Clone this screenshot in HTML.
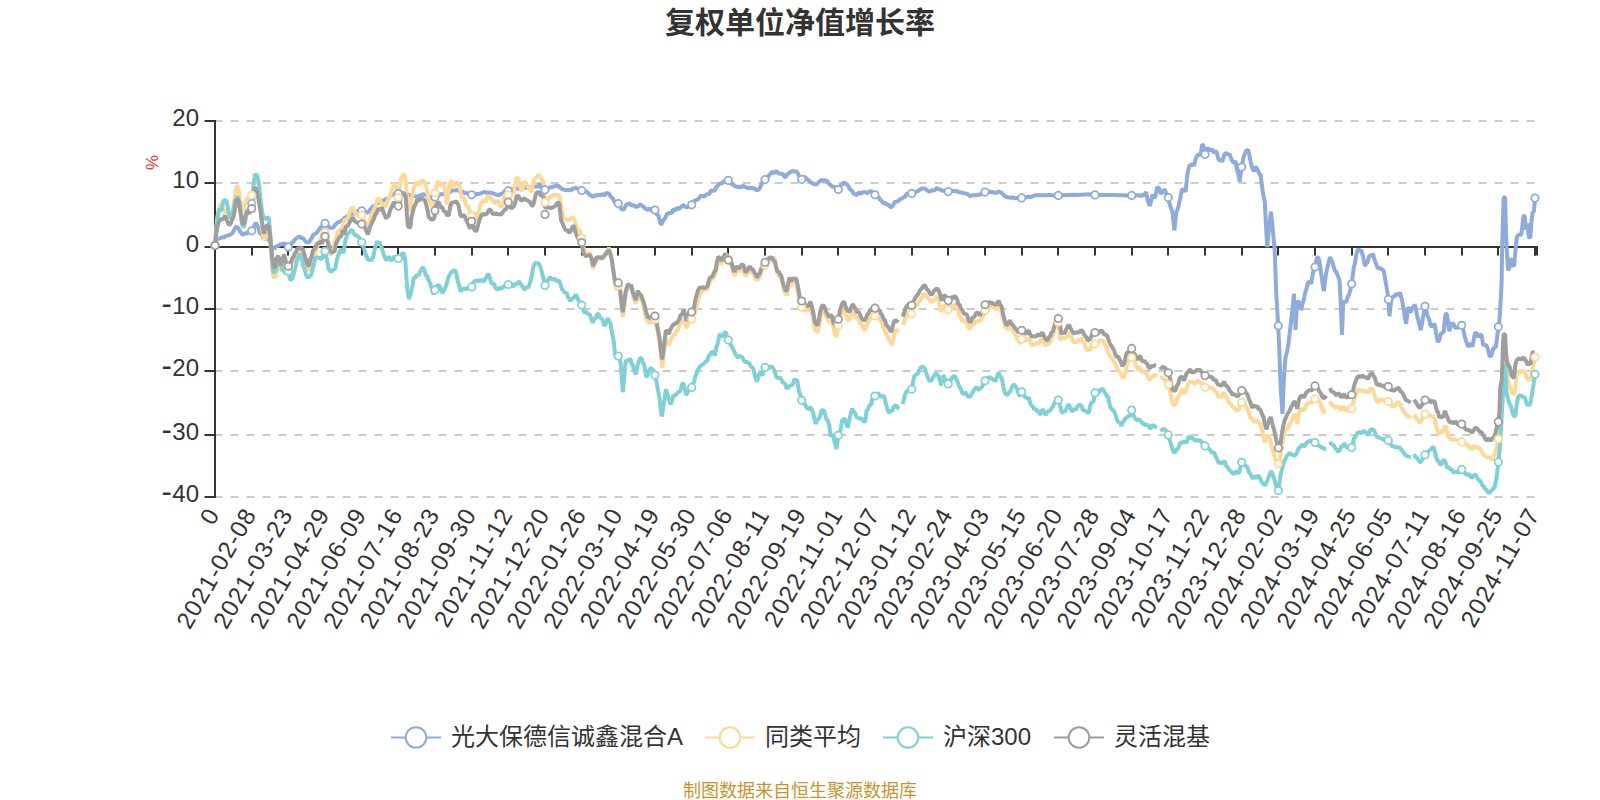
<!DOCTYPE html>
<html lang="zh-CN"><head><meta charset="utf-8"><title>复权单位净值增长率</title>
<style>
html,body{margin:0;padding:0;background:#fff;}
body{width:1600px;height:800px;overflow:hidden;font-family:"Liberation Sans","Noto Sans CJK SC",sans-serif;}
svg{display:block;}
svg text{font-family:"Liberation Sans","Noto Sans CJK SC",sans-serif;}
.ttl{font-size:30px;font-weight:bold;fill:#333;}
.yl{font-size:24px;fill:#333;}
.xl{font-size:24px;fill:#333;letter-spacing:1.2px;}
.lg{font-size:24px;fill:#333;}
.src{font-size:18px;fill:#c8932e;}
.ln{fill:none;stroke-width:4;stroke-linejoin:bevel;stroke-linecap:butt;}
.sy{fill:#fff;stroke-width:1.75;}
</style></head><body>
<svg width="1600" height="800" viewBox="0 0 1600 800">
<rect width="1600" height="800" fill="#fff"/>
<text class="ttl" x="800" y="33" text-anchor="middle">复权单位净值增长率</text>

<line x1="214.5" y1="121.0" x2="1535" y2="121.0" stroke="#ccc" stroke-width="2" stroke-dasharray="8 8"/>
<line x1="214.5" y1="183.0" x2="1535" y2="183.0" stroke="#ccc" stroke-width="2" stroke-dasharray="8 8"/>
<line x1="214.5" y1="309.0" x2="1535" y2="309.0" stroke="#ccc" stroke-width="2" stroke-dasharray="8 8"/>
<line x1="214.5" y1="371.0" x2="1535" y2="371.0" stroke="#ccc" stroke-width="2" stroke-dasharray="8 8"/>
<line x1="214.5" y1="435.0" x2="1535" y2="435.0" stroke="#ccc" stroke-width="2" stroke-dasharray="8 8"/>
<line x1="214.5" y1="497.0" x2="1535" y2="497.0" stroke="#ccc" stroke-width="2" stroke-dasharray="8 8"/>
<line x1="215" y1="120" x2="215" y2="498" stroke="#333" stroke-width="2"/>
<line x1="204.5" y1="121.0" x2="215" y2="121.0" stroke="#333" stroke-width="2"/>
<text class="yl" x="199" y="125.5" text-anchor="end">20</text>
<line x1="204.5" y1="183.0" x2="215" y2="183.0" stroke="#333" stroke-width="2"/>
<text class="yl" x="199" y="187.5" text-anchor="end">10</text>
<line x1="204.5" y1="247.0" x2="215" y2="247.0" stroke="#333" stroke-width="2"/>
<text class="yl" x="199" y="251.5" text-anchor="end">0</text>
<line x1="204.5" y1="309.0" x2="215" y2="309.0" stroke="#333" stroke-width="2"/>
<text class="yl" x="199" y="313.5" text-anchor="end"><tspan font-size="31" letter-spacing="0.5">-</tspan>10</text>
<line x1="204.5" y1="371.0" x2="215" y2="371.0" stroke="#333" stroke-width="2"/>
<text class="yl" x="199" y="375.5" text-anchor="end"><tspan font-size="31" letter-spacing="0.5">-</tspan>20</text>
<line x1="204.5" y1="435.0" x2="215" y2="435.0" stroke="#333" stroke-width="2"/>
<text class="yl" x="199" y="439.5" text-anchor="end"><tspan font-size="31" letter-spacing="0.5">-</tspan>30</text>
<line x1="204.5" y1="497.0" x2="215" y2="497.0" stroke="#333" stroke-width="2"/>
<text class="yl" x="199" y="501.5" text-anchor="end"><tspan font-size="31" letter-spacing="0.5">-</tspan>40</text>
<text x="158" y="162.5" font-size="17" fill="#e33" text-anchor="middle" transform="rotate(-90 158 162.5)">%</text>
<line x1="215" y1="247" x2="1538" y2="247" stroke="#333" stroke-width="2"/>
<line x1="215" y1="246" x2="215" y2="255.5" stroke="#333" stroke-width="2"/>
<text class="xl" text-anchor="end" transform="translate(220.5 513.8) rotate(-60)">0</text>
<line x1="252" y1="246" x2="252" y2="255.5" stroke="#333" stroke-width="2"/>
<text class="xl" text-anchor="end" transform="translate(257.2 513.8) rotate(-60)">2021-02-08</text>
<line x1="288" y1="246" x2="288" y2="255.5" stroke="#333" stroke-width="2"/>
<text class="xl" text-anchor="end" transform="translate(293.8 513.8) rotate(-60)">2021-03-23</text>
<line x1="325" y1="246" x2="325" y2="255.5" stroke="#333" stroke-width="2"/>
<text class="xl" text-anchor="end" transform="translate(330.5 513.8) rotate(-60)">2021-04-29</text>
<line x1="362" y1="246" x2="362" y2="255.5" stroke="#333" stroke-width="2"/>
<text class="xl" text-anchor="end" transform="translate(367.2 513.8) rotate(-60)">2021-06-09</text>
<line x1="398" y1="246" x2="398" y2="255.5" stroke="#333" stroke-width="2"/>
<text class="xl" text-anchor="end" transform="translate(403.8 513.8) rotate(-60)">2021-07-16</text>
<line x1="435" y1="246" x2="435" y2="255.5" stroke="#333" stroke-width="2"/>
<text class="xl" text-anchor="end" transform="translate(440.5 513.8) rotate(-60)">2021-08-23</text>
<line x1="472" y1="246" x2="472" y2="255.5" stroke="#333" stroke-width="2"/>
<text class="xl" text-anchor="end" transform="translate(477.2 513.8) rotate(-60)">2021-09-30</text>
<line x1="508" y1="246" x2="508" y2="255.5" stroke="#333" stroke-width="2"/>
<text class="xl" text-anchor="end" transform="translate(513.8 513.8) rotate(-60)">2021-11-12</text>
<line x1="545" y1="246" x2="545" y2="255.5" stroke="#333" stroke-width="2"/>
<text class="xl" text-anchor="end" transform="translate(550.5 513.8) rotate(-60)">2021-12-20</text>
<line x1="582" y1="246" x2="582" y2="255.5" stroke="#333" stroke-width="2"/>
<text class="xl" text-anchor="end" transform="translate(587.2 513.8) rotate(-60)">2022-01-26</text>
<line x1="618" y1="246" x2="618" y2="255.5" stroke="#333" stroke-width="2"/>
<text class="xl" text-anchor="end" transform="translate(623.8 513.8) rotate(-60)">2022-03-10</text>
<line x1="655" y1="246" x2="655" y2="255.5" stroke="#333" stroke-width="2"/>
<text class="xl" text-anchor="end" transform="translate(660.5 513.8) rotate(-60)">2022-04-19</text>
<line x1="692" y1="246" x2="692" y2="255.5" stroke="#333" stroke-width="2"/>
<text class="xl" text-anchor="end" transform="translate(697.2 513.8) rotate(-60)">2022-05-30</text>
<line x1="728" y1="246" x2="728" y2="255.5" stroke="#333" stroke-width="2"/>
<text class="xl" text-anchor="end" transform="translate(733.8 513.8) rotate(-60)">2022-07-06</text>
<line x1="765" y1="246" x2="765" y2="255.5" stroke="#333" stroke-width="2"/>
<text class="xl" text-anchor="end" transform="translate(770.5 513.8) rotate(-60)">2022-08-11</text>
<line x1="802" y1="246" x2="802" y2="255.5" stroke="#333" stroke-width="2"/>
<text class="xl" text-anchor="end" transform="translate(807.2 513.8) rotate(-60)">2022-09-19</text>
<line x1="838" y1="246" x2="838" y2="255.5" stroke="#333" stroke-width="2"/>
<text class="xl" text-anchor="end" transform="translate(843.8 513.8) rotate(-60)">2022-11-01</text>
<line x1="875" y1="246" x2="875" y2="255.5" stroke="#333" stroke-width="2"/>
<text class="xl" text-anchor="end" transform="translate(880.5 513.8) rotate(-60)">2022-12-07</text>
<line x1="912" y1="246" x2="912" y2="255.5" stroke="#333" stroke-width="2"/>
<text class="xl" text-anchor="end" transform="translate(917.2 513.8) rotate(-60)">2023-01-12</text>
<line x1="948" y1="246" x2="948" y2="255.5" stroke="#333" stroke-width="2"/>
<text class="xl" text-anchor="end" transform="translate(953.8 513.8) rotate(-60)">2023-02-24</text>
<line x1="985" y1="246" x2="985" y2="255.5" stroke="#333" stroke-width="2"/>
<text class="xl" text-anchor="end" transform="translate(990.5 513.8) rotate(-60)">2023-04-03</text>
<line x1="1022" y1="246" x2="1022" y2="255.5" stroke="#333" stroke-width="2"/>
<text class="xl" text-anchor="end" transform="translate(1027.2 513.8) rotate(-60)">2023-05-15</text>
<line x1="1058" y1="246" x2="1058" y2="255.5" stroke="#333" stroke-width="2"/>
<text class="xl" text-anchor="end" transform="translate(1063.8 513.8) rotate(-60)">2023-06-20</text>
<line x1="1095" y1="246" x2="1095" y2="255.5" stroke="#333" stroke-width="2"/>
<text class="xl" text-anchor="end" transform="translate(1100.5 513.8) rotate(-60)">2023-07-28</text>
<line x1="1132" y1="246" x2="1132" y2="255.5" stroke="#333" stroke-width="2"/>
<text class="xl" text-anchor="end" transform="translate(1137.2 513.8) rotate(-60)">2023-09-04</text>
<line x1="1168" y1="246" x2="1168" y2="255.5" stroke="#333" stroke-width="2"/>
<text class="xl" text-anchor="end" transform="translate(1173.8 513.8) rotate(-60)">2023-10-17</text>
<line x1="1205" y1="246" x2="1205" y2="255.5" stroke="#333" stroke-width="2"/>
<text class="xl" text-anchor="end" transform="translate(1210.5 513.8) rotate(-60)">2023-11-22</text>
<line x1="1242" y1="246" x2="1242" y2="255.5" stroke="#333" stroke-width="2"/>
<text class="xl" text-anchor="end" transform="translate(1247.2 513.8) rotate(-60)">2023-12-28</text>
<line x1="1278" y1="246" x2="1278" y2="255.5" stroke="#333" stroke-width="2"/>
<text class="xl" text-anchor="end" transform="translate(1283.8 513.8) rotate(-60)">2024-02-02</text>
<line x1="1315" y1="246" x2="1315" y2="255.5" stroke="#333" stroke-width="2"/>
<text class="xl" text-anchor="end" transform="translate(1320.5 513.8) rotate(-60)">2024-03-19</text>
<line x1="1352" y1="246" x2="1352" y2="255.5" stroke="#333" stroke-width="2"/>
<text class="xl" text-anchor="end" transform="translate(1357.2 513.8) rotate(-60)">2024-04-25</text>
<line x1="1388" y1="246" x2="1388" y2="255.5" stroke="#333" stroke-width="2"/>
<text class="xl" text-anchor="end" transform="translate(1393.8 513.8) rotate(-60)">2024-06-05</text>
<line x1="1425" y1="246" x2="1425" y2="255.5" stroke="#333" stroke-width="2"/>
<text class="xl" text-anchor="end" transform="translate(1430.5 513.8) rotate(-60)">2024-07-11</text>
<line x1="1462" y1="246" x2="1462" y2="255.5" stroke="#333" stroke-width="2"/>
<text class="xl" text-anchor="end" transform="translate(1467.2 513.8) rotate(-60)">2024-08-16</text>
<line x1="1498" y1="246" x2="1498" y2="255.5" stroke="#333" stroke-width="2"/>
<text class="xl" text-anchor="end" transform="translate(1503.8 513.8) rotate(-60)">2024-09-25</text>
<line x1="1535" y1="246" x2="1535" y2="255.5" stroke="#333" stroke-width="2"/>
<text class="xl" text-anchor="end" transform="translate(1540.5 513.8) rotate(-60)">2024-11-07</text>
<rect x="1534" y="246" width="4" height="9.5" fill="#333"/>
<polyline class="ln" stroke="#8eabdc" points="215,245.5 217,239.2 218.2,238.69 219.4,238.4 220.95,237.94 222.5,237.2 224.05,237.65 225.6,236.1 227.2,235.61 228.8,235.3 230.35,234.57 231.9,233.8 233.05,231.97 234.2,229.8 235.4,227.6 236.6,226.7 237.75,227.92 238.9,229.1 240.05,231.36 241.2,233 242.4,234.5 243.6,234.5 245.15,233 246.7,233.8 248.25,232 249.8,231.4 251,229.78 252.2,230.6 253.35,228.78 254.5,225.2 256.1,222.8 257.25,225.66 258.4,227.5 260,233.8 261.15,233.48 262.3,236.1 263.5,238.15 264.7,236.9 265.85,239.04 267,238.4 268.2,239.64 269.4,240 270.55,244.19 271.7,247.8 272.9,247.85 274.1,249.4 275.25,246.77 276.4,246.2 277.6,245.92 278.8,245.5 280.35,244 281.9,244.7 283.45,243.51 285,243.9 286.65,244.97 288.3,247 290.5,245.5 291.65,243.01 292.8,242.3 294,240.68 295.2,239.2 296.75,237.93 298.3,236.9 300,236.8 301.5,238.26 303,238.2 304.5,240.15 306,242 307.5,242.34 309,242 311.2,239 312.35,236.75 313.5,234.5 315,234.17 316.5,233 317.65,231.39 318.8,230 320.3,227.54 321.8,226.2 323.45,226.03 325.1,223.2 326.45,225.61 327.8,225.5 329.3,227.47 330.8,227.8 332.3,227.91 333.8,227 335.3,224.67 336.8,223.2 338.3,221.94 339.8,221.8 341.3,220.59 342.8,220.2 344.3,217.95 345.8,217.2 347.3,216.54 348.8,215 350.3,214.09 351.8,213.5 353.3,213.72 354.8,212.8 356.3,211.8 357.8,211.2 359.07,211.92 360.33,211.58 361.6,210.8 363.05,210.54 364.5,212 366,211.92 367.5,212.8 369,211.58 370.5,209 372,207.45 373.5,206 375,205.76 376.5,203.8 378,202.81 379.5,202.2 381,200.72 382.5,200.8 384,200.23 385.5,199.2 387,198.97 388.5,197.8 390,196.3 391.5,195.5 393,194.15 394.5,194 395.77,193.63 397.03,194.38 398.3,193.6 399.82,193.83 401.35,192.82 402.88,192.87 404.4,193.1 405.7,193.09 407,193.6 408.3,195.2 409.6,194.88 410.9,195.9 412.32,196.23 413.75,196.33 415.18,196.23 416.6,196.9 417.83,196.74 419.07,195.47 420.3,195.5 421.57,195.35 422.83,194.34 424.1,194.5 425.33,194.85 426.57,195 427.8,195.9 429.07,196.17 430.33,197.92 431.6,197.8 433.3,197.92 435,197.1 436.37,196.1 437.73,196.29 439.1,195 440.67,194.25 442.23,194.23 443.8,194.1 445.28,194.07 446.76,193.16 448.24,191.74 449.72,192.54 451.2,191.2 452.62,190.41 454.05,190.13 455.47,190.57 456.9,189.8 458.13,190.36 459.37,191.11 460.6,192.2 462,191.79 463.4,192.04 464.8,193 466.2,193.1 467.57,193.18 468.95,194.09 470.32,194.2 471.7,194.8 473.15,194.56 474.6,195.06 476.05,194.25 477.5,194.1 479.07,193.72 480.63,193.59 482.2,192.7 483.6,192.17 485,192 486.4,192.85 487.8,192.2 489.2,192.9 490.6,192.62 492,192.91 493.4,193.6 495,194.1 496.4,194.81 497.8,195 499.07,195.15 500.33,194.09 501.6,194.1 503,193.09 504.4,191.2 505.7,191.44 507,191.03 508.3,190.8 509.5,190.26 510.7,189.51 511.9,189.4 513.13,188.63 514.37,189.17 515.6,188.4 516.87,188.16 518.13,188.58 519.4,188.4 520.63,187.85 521.87,188.13 523.1,187.5 524.37,187.77 525.63,187.61 526.9,188 528.13,187.42 529.37,187.95 530.6,187.5 531.87,186.65 533.13,186.55 534.4,186.6 535.63,186.51 536.87,186.71 538.1,186.1 539.5,183.8 540.9,187.5 542.27,188.44 543.63,188.69 545,189.8 546.7,189.8 548.4,188.4 549.67,187.6 550.93,186.99 552.2,187.5 553.6,186.42 555,186.1 556.15,185.56 557.3,185.2 558.5,185.76 559.7,187.5 561.1,188.04 562.5,189.4 563.73,189.53 564.97,190.09 566.2,190.3 567.47,189.77 568.73,190.1 570,190.3 571.4,189.98 572.8,188.4 574.2,188.75 575.6,187.5 577,188.44 578.4,188.9 580,189.98 581.6,190.5 582.9,191.17 584.2,190.89 585.5,191.22 586.8,191.71 588.1,193.1 589.52,194.87 590.95,195.25 592.38,196.68 593.8,196.5 595.03,194.97 596.27,195.79 597.5,195 598.9,194.85 600.3,195.4 601.7,194.23 603.1,194.6 604.52,195.49 605.95,192.77 607.38,193.59 608.8,193.1 610.03,195.35 611.27,197.39 612.5,197.8 613.9,200.81 615.3,202.5 616.8,203.52 618.3,203.4 619.5,206.13 620.7,208.37 621.9,209.1 623.8,210 625.2,206.73 626.6,204.4 628,204.15 629.4,202.9 630.8,204.85 632.2,205.59 633.6,205.14 635,206.2 636.4,206.79 637.8,206.6 639.2,205.11 640.6,204.4 642,206.02 643.4,206.33 644.8,208.22 646.2,209.1 647.77,209.81 649.33,208.1 650.9,210 652.3,210.5 653.7,211.77 655.1,210 656.75,214.21 658.4,215.6 659.8,221.12 661.2,225 662.65,221.79 664.1,219.4 665.5,217.4 666.9,213.8 668.13,213.75 669.37,212.92 670.6,212.8 671.87,213.15 673.13,209.35 674.4,210 675.8,210.48 677.2,207.26 678.6,208.96 680,208.1 681.27,207.11 682.53,205.38 683.8,205.3 685.2,206.84 686.6,207.2 687.85,206.62 689.1,206.33 690.35,206.52 691.6,204.9 692.92,202.87 694.25,200.84 695.58,200.41 696.9,199.7 698.3,199.28 699.7,196.91 701.1,195.86 702.5,195.9 703.9,196.61 705.3,195.46 706.7,194.38 708.1,194.1 709.37,194.01 710.63,191.05 711.9,190.3 713.3,190.8 714.7,190.3 716.27,187.29 717.83,185.77 719.4,183.8 720.97,183.57 722.53,182.86 724.1,180.9 725.53,181.61 726.97,180.3 728.4,180.4 729.77,182.01 731.13,182.87 732.5,184.7 733.9,184.93 735.3,186.6 736.87,186.59 738.43,187.33 740,186.6 741.27,187.02 742.53,186.39 743.8,185.6 745.03,187.48 746.27,187 747.5,188.4 748.9,187.56 750.3,188.28 751.7,187.83 753.1,188.4 754.37,188.35 755.63,189.46 756.9,190.3 758.3,189.65 759.7,188.4 761.1,185.13 762.5,181.9 763.7,180.26 764.9,179.6 766.17,179.22 767.45,178.31 768.73,175.57 770,174.4 771.4,172.48 772.8,171.66 774.2,173.37 775.6,171.6 776.87,170.95 778.13,173.37 779.4,173.4 780.63,173.93 781.87,173.54 783.1,174.4 784.5,176.58 785.9,177.2 787.35,174.03 788.8,173.4 790.6,171.9 792.17,170.85 793.73,171.52 795.3,171.5 796.7,171.41 798.1,173.8 799.3,176.53 800.5,176.85 801.7,179.4 803,177.8 804.3,176.91 805.6,177.5 806.87,179.07 808.13,179.83 809.4,181.2 810.8,182.28 812.2,183.07 813.6,184.21 815,184.1 816.57,184.56 818.13,182.74 819.7,181.2 821.27,179.95 822.83,180.52 824.4,180.3 825.97,180.63 827.53,181.41 829.1,184.1 830.67,184.95 832.23,186.64 833.8,186.9 835.27,186.79 836.73,188.03 838.2,189.7 839.7,186.87 841.2,185 842.65,184.19 844.1,182.2 845.33,183.2 846.57,184.42 847.8,185 849.2,188.11 850.6,189.7 852.17,190.94 853.73,193.74 855.3,194.4 856.87,195.31 858.43,192.47 860,193.4 861.4,193.79 862.8,191.6 864.07,192.86 865.33,191.7 866.6,193.4 868.13,192.33 869.67,191.91 871.2,190.6 872.47,193.26 873.73,193.02 875,194.8 876.27,195.79 877.53,197.47 878.8,197.2 880.2,199.93 881.6,200.9 883.13,203.27 884.67,202.72 886.2,203.8 887.53,205.08 888.85,204.56 890.17,206.94 891.5,207.1 893.1,205.43 894.7,201.9 896.27,201.65 897.83,201.23 899.4,200 900.63,198.32 901.87,199.17 903.1,197.2 904.37,197.16 905.63,195.89 906.9,193.4 908.53,193.49 910.17,194.09 911.8,193.4 913.27,192.39 914.73,193.14 916.2,191.6 917.77,191.55 919.33,189.76 920.9,189.3 922.17,188.22 923.43,188.59 924.7,188.4 926.27,189.55 927.83,190.98 929.4,191.6 930.63,191.25 931.87,190.26 933.1,190.6 934.67,190.32 936.23,188.5 937.8,188.4 939.07,189.56 940.33,189.4 941.6,190.6 942.83,190.52 944.07,191.24 945.3,191 946.8,190.78 948.3,191.6 949.8,190.84 951.3,190.95 952.8,190.6 954.07,191 955.33,191.27 956.6,191 958.13,191.73 959.67,192.54 961.2,192.5 962.77,192.79 964.33,193.58 965.9,193.4 967.17,193.81 968.43,194.78 969.7,195.9 971.27,195.73 972.83,195.27 974.4,195.3 975.8,195.33 977.2,195.01 978.6,194.65 980,194.4 981.27,194.24 982.55,193.32 983.83,192.45 985.1,192.1 985.1,191.5 986.53,191.33 987.97,191.99 989.4,191.5 990.97,192.42 992.53,192.01 994.1,192.8 995.67,192.77 997.23,192.48 998.8,191.5 1000.2,192.18 1001.6,192.8 1003,194.47 1004.4,196 1005.63,196.18 1006.87,197.04 1008.1,197.5 1009.52,197.6 1010.95,197.81 1012.38,197.3 1013.8,197.9 1015.36,198.34 1016.92,197.92 1018.48,197.81 1020.04,198.18 1021.6,197.9 1022.93,197.75 1024.25,197.49 1025.58,197.46 1026.9,197.1 1028.13,196.77 1029.37,197.13 1030.6,197.1 1031.87,196.43 1033.13,196.05 1034.4,195.2 1035.9,195.37 1037.4,195.11 1038.9,195.19 1040.4,195.05 1041.9,195.2 1043.23,195.17 1044.56,195.33 1045.89,195.37 1047.21,195.19 1048.54,195.12 1049.87,195.07 1051.2,195.2 1052.64,195.29 1054.08,195.47 1055.52,195.16 1056.96,195.48 1058.4,195.4 1059.96,195.17 1061.52,195.17 1063.08,195.12 1064.64,195.23 1066.2,195.1 1067.61,195.01 1069.03,195 1070.44,195.07 1071.85,194.85 1073.26,195.06 1074.67,194.81 1076.09,194.93 1077.5,194.9 1088.8,194.3 1094.9,194.9 1103.8,195.1 1105.2,195 1106.6,194.98 1108,195.11 1109.4,195.08 1110.8,195.05 1112.2,195.07 1113.6,195.11 1115,195.1 1116.34,194.93 1117.69,194.97 1119.03,195.21 1120.37,195.23 1121.71,195.19 1123.06,195.37 1124.4,195.2 1125.86,195.38 1127.32,195.73 1128.78,194.98 1130.24,195.67 1131.7,195.4 1133.15,195.94 1134.6,196.1 1136.05,195.08 1137.5,195.4 1138.9,195.03 1140.3,196.46 1141.7,194.91 1143.1,195.6 1145,193.8 1145.9,191.9 1147.8,200.3 1149.7,205.9 1151.6,199.4 1152.5,194.7 1153.9,197.54 1155.3,196.6 1157.2,187.2 1159.1,188.1 1160.9,193.8 1162.8,191.9 1164.7,189.1 1166.6,194.7 1168.2,196.9 1169.4,203.37 1170.6,206.9 1172.5,212.5 1174.4,230.3 1176.2,212.5 1178.1,207.8 1180,199.4 1181.9,190 1183.13,189.24 1184.37,190.28 1185.6,191.9 1187.5,173.1 1189.4,165.6 1190.8,165.56 1192.2,163.8 1194.1,165.6 1195.9,158.1 1197.35,155.34 1198.8,154.4 1200.6,155.3 1202.1,144.6 1203.25,145.2 1204.4,148.8 1205.8,150.06 1207.2,148.8 1208.43,148.81 1209.67,150.48 1210.9,149.7 1212.35,149.77 1213.8,152.5 1215.2,151.7 1216.6,151.6 1218.4,159.1 1219.67,160.55 1220.93,159.61 1222.2,161.9 1224.1,155.3 1225.5,153.21 1226.9,153.4 1228.3,154.59 1229.7,154.4 1231.6,160 1232.83,161.86 1234.07,162.38 1235.3,160.9 1237.2,170.3 1238.4,174.49 1239.6,181.6 1241.7,166.9 1243.8,156.2 1245.2,152.97 1246.6,149.7 1248.4,150.6 1250.3,160 1252.2,168.4 1254.1,171.2 1255.9,166.6 1257.8,170.3 1259.2,173.63 1260.6,175 1262.5,190 1263.65,196.11 1264.8,202.2 1265.9,223.8 1267.2,247.2 1269.1,227.5 1270.9,211.6 1272.8,229.4 1274.7,250 1276.2,292.5 1278.2,325.8 1279.5,355 1280.5,385 1282.5,413.8 1283.8,380 1285.5,357.5 1287.5,350 1289.5,335 1291.2,320 1293,305 1294,293.8 1295.5,330 1297,302.5 1298.8,301.2 1300,306.31 1301.2,310 1302.5,303.82 1303.8,300 1305,293.37 1306.2,290 1308,282.5 1309.6,281.65 1311.2,283.8 1313,272.5 1315,267 1317,257.5 1318.25,257.59 1319.5,261.2 1321.2,273.8 1322.5,282.7 1323.8,291.2 1325.8,275 1328,265 1330,257 1331.25,259.81 1332.5,262.5 1333.75,267.11 1335,271.2 1336.25,271.76 1337.5,275 1339.5,280 1340.8,305 1342,335 1343.2,302.5 1344.7,301.3 1346.2,302.5 1347.5,297.62 1348.8,295 1350.3,290.39 1351.8,283.2 1353.8,267.5 1355,263.11 1356.2,255 1358.2,248.8 1359.7,251.02 1361.2,250 1363,256.2 1365,266.2 1366.25,262.81 1367.5,262.5 1368.75,257.09 1370,255 1371.5,256.12 1373,253.8 1375,261.2 1376.25,264.21 1377.5,267.5 1378.73,268.94 1379.97,267.71 1381.2,268.8 1382.5,269.87 1383.8,271.2 1385,278.16 1386.2,285 1388.2,297.5 1389.5,316.2 1391.2,300 1392.5,297.83 1393.8,296.2 1395.03,296.18 1396.27,293.55 1397.5,295 1398.75,294.51 1400,292.5 1402,300 1403.8,310 1405,318.21 1406.2,323.8 1408,307.5 1409.25,308.79 1410.5,312.5 1412.5,307.5 1413.75,306.08 1415,305 1417,315 1418.8,322.5 1420.8,330 1423,317.5 1425,306.2 1426.4,310.5 1427.6,316.1 1429.2,319.5 1430.4,325.1 1432.1,326.8 1433.8,324 1434.9,325.1 1436,333 1437.7,342 1439.4,339.8 1440.5,334.1 1442.2,333 1443.9,331.3 1444.8,319.5 1445.9,312.8 1447,315 1448.2,322.9 1449.3,331.3 1450.6,326.2 1451.8,322.9 1453.4,324 1455.1,327.4 1456.25,328.28 1457.4,327.4 1459.6,326.2 1460.75,325.36 1461.9,325.1 1463.6,330.8 1464.7,336.4 1466.4,342 1468.1,346.5 1470.3,344.2 1471.45,344.19 1472.6,346.5 1473.7,339.8 1475.2,332.4 1477.1,334.1 1478.2,336.9 1479.9,335.2 1481.6,334.7 1483,344.2 1484.4,345.4 1486.1,344.8 1487.8,348.8 1489.4,355.5 1491.1,356.6 1492.5,351 1493.9,347.6 1495.6,347.6 1496.8,339.8 1497.9,331.3 1498.8,326.8 1499.6,317.2 1500.3,307.1 1501,294.8 1501.6,283.5 1502.1,247.5 1502.8,225 1503.6,197.3 1505.1,197.3 1505.8,225 1506.7,250.5 1508.1,270.1 1509.3,268.6 1510.5,258 1511.8,266.3 1513,265.03 1514.2,266.3 1515.3,252 1516.5,240 1517.5,235.5 1519.3,234.8 1521.3,234.8 1522.5,225 1523.5,216 1524.7,216 1525.8,229.5 1527.3,223.5 1528.8,237 1530.3,237.8 1531.3,223.5 1532.5,213 1534,210.8 1535.1,196.8"/>
<polyline class="ln" stroke="#fdd896" points="215,245.5 215.9,232.2 217,219.7 218.6,210.3 220.2,204.8 221.7,204.1 222.9,208.94 224.1,210.3 225.6,216.6 226.8,215.98 228,218.1 229.15,215.54 230.3,216.6 231.5,216.14 232.7,211.9 234.2,199.4 235.8,190 237.3,185.3 238.9,191.6 240.5,202.5 242,208.8 243.6,210.3 245.2,202.5 246.7,198.6 247.9,198.2 249.1,200.2 250.6,196.2 252.2,194.7 253.8,185.3 255.3,176.7 256.5,175.26 257.7,176.7 259.2,188.4 260.8,211.9 262.3,230.6 263.9,240 265.5,238.4 267,232.2 268.6,227.5 270.2,240 271.7,261.9 273.3,276.7 274.45,277.28 275.6,276.7 277.2,269.7 278.8,265 280.3,268.1 281.9,271.2 283.4,265 285,261.9 286.6,266.6 288.3,268.1 290.5,266.6 291.65,263.66 292.8,261.9 294,261.03 295.2,257.2 296.35,253.83 297.5,252.5 298.75,253.5 300,251 301.5,251.81 303,254 304.5,258.88 306,263 307.5,268.39 309,270.5 311.2,261.5 312.35,259.2 313.5,255.5 314.65,254.86 315.8,251 318,245 320.2,240.5 321.35,238.29 322.5,234.5 323.8,231.63 325.1,232.2 326.45,236.3 327.8,237.5 329.2,249.5 330.8,255.5 333,249.5 335.2,240.5 336.35,237.09 337.5,233 338.65,230.78 339.8,230 342,230 343.5,222.5 344.65,219.82 345.8,219.5 348,218 350.2,210.5 351.35,209.84 352.5,206.8 353.65,209.71 354.8,212 357,215 359.2,214.2 360.4,216.26 361.6,215 363.8,219.5 366,224 367.8,230 369.8,221 372,213.5 374.2,209 375.35,206.64 376.5,202.2 378,197.8 380.2,200 381.35,203.65 382.5,203.8 383.65,205.9 384.8,207.5 387,202.2 389.2,197 390.35,194.75 391.5,191 392.65,188.03 393.8,184.2 395.7,185 396.4,189.4 398.3,197.8 399.7,191.2 401.1,179.1 402.5,174.8 404.4,174.8 405.8,180 406.7,193.1 408.1,205.3 409.5,211.9 410.9,204.4 412.3,195.9 413.8,187.5 415.2,185.6 416.6,181.9 418,183.8 419.4,184.7 420.8,181.9 422.2,180.5 424.1,180.9 425.5,183.8 426.9,189.4 427.8,195 429.2,200.6 431.1,204.4 432.5,206.2 433.9,202.5 435,193.1 436.2,186.6 437.7,182.3 439.1,181.9 440.5,185.6 441.9,184.7 443.3,183.8 444.7,188.4 446.1,197.8 447,204.4 448,195.9 449.4,183.8 450.8,181.4 452.2,181.9 453.1,188.4 454.1,184.7 455.9,183.3 457.8,182.8 459.7,186.6 461.1,195.9 462.5,197.8 464.4,197.8 465.8,204.4 467.7,206.2 469.1,209.1 470.5,211.9 471.7,216.1 473.3,212.8 474.7,214.7 476.1,218.4 477.5,218.4 478.9,211.9 480.3,204.4 482.2,202.5 484.1,199.7 485.5,202.5 486.9,197.3 488.8,195.9 490.6,198.3 492.5,200.6 494.4,202.3 495,202.5 496.9,200.6 498.8,202.5 500.2,206.2 501.6,207.2 503,202.5 504.4,195.9 506.2,193.1 508.3,194.8 510.5,195 512.3,193.1 513.8,192.2 515.2,183.8 516.1,178.1 518,178.1 519.4,183.8 520.8,188.4 522.2,191.2 523.1,185.6 524.5,181.9 525.9,182.8 527.3,185.6 528.8,188.4 530.2,190.3 531.6,192.2 532.5,185.6 533.9,180 535.3,179.1 536.7,177.2 538.1,175.3 539.5,175.3 540.9,178.1 541.9,180 543.3,180.9 544.2,186.6 545,202.3 546.6,202.5 548.4,198.8 550.3,196.9 552.2,195.9 553.6,194.53 555,195 556.15,196.08 557.3,194.5 559.2,195.9 560.6,202.5 561.6,209.1 562.5,215.6 564.4,218.4 566.2,219.4 568.1,220.3 570,218.9 571.9,217.5 573.8,218 575.2,222.2 576.6,226.9 578,229.7 579.8,230.6 580.8,234.4 581.6,237.7 583.4,247.5 584.8,249.59 586.2,253.1 587.47,253.87 588.73,254.23 590,252.2 591.4,259.77 592.8,266.2 592.8,269.1 594.07,264.31 595.33,263.47 596.6,258.8 598.13,259.74 599.67,258.2 601.2,259.7 602.47,256.42 603.73,256.69 605,255 606.27,250.72 607.53,251.62 608.8,247.5 610.2,253.17 611.6,258.8 613,269.17 614.4,279.4 616.2,289.7 618.3,285.9 620,291.6 621.4,304.06 622.8,317.2 624.2,306.56 625.6,294.7 627.5,287.8 628.73,289.38 629.97,287.07 631.2,287.8 632.65,292.97 634.1,299.1 635.9,303.8 637.8,294.4 639.7,297.2 641.1,299.86 642.5,301.9 643.73,306.53 644.97,313.06 646.2,318.1 648.1,322.8 649.37,322.66 650.63,321.95 651.9,321.9 653.5,321.16 655.1,319.1 656.3,324.81 657.5,330.3 659.4,340.6 660.8,352.63 662.2,367.8 664.1,351.9 665.9,338.8 667.35,343.49 668.8,344.4 670.03,341.35 671.27,339.14 672.5,336.9 673.73,334.63 674.97,334.73 676.2,331.2 677.62,330.59 679.05,326.6 680.48,323.85 681.9,321.9 683.8,318.1 685.2,321.72 686.6,328.4 688.4,321.9 690,322 691.6,319.1 693.3,314.55 695,312.5 696.4,307.03 697.8,301.2 699.7,294.4 701.1,291.93 702.5,290.6 704.07,289.65 705.63,289.46 707.2,289.7 708.6,284.28 710,281.2 711.4,278.54 712.8,279.4 714.2,276.73 715.6,273.8 717,268.32 718.4,260.6 719.8,263.06 721.2,264.4 722.47,259.5 723.73,257.6 725,253.1 726.7,254.7 728.4,259.7 730,262.16 731.6,265.3 733,271.7 734.4,275.6 735.8,273.95 737.2,269.1 738.6,269.85 740,270.9 741.4,270.37 742.8,267.2 744.2,271.89 745.6,276.6 746.87,274.19 748.13,271.92 749.4,269.1 750.63,272.2 751.87,272.49 753.1,272.8 754.37,275.2 755.63,278.66 756.9,280.3 758.3,278.99 759.7,276.6 761.1,271.79 762.5,268.1 763.7,267.78 764.9,265.3 766.5,264.17 768.1,260.6 769.5,259.16 770.9,256.9 772.17,259.52 773.43,256.94 774.7,259.7 776.1,266.75 777.5,273.8 778.73,275.84 779.97,276.26 781.2,278.4 782.65,283.25 784.1,290.6 785.5,293.68 786.9,295.3 788.3,288 789.7,281.2 790.6,286.6 792,283.37 793.4,281.9 794.8,279.66 796.2,280.9 798.1,293.1 800,305.3 801.7,307.2 803.2,310.38 804.7,310 806.1,309.89 807.5,310.9 808.9,308.05 810.3,308.1 811.7,312.67 813.1,319.4 815,330.6 816.4,330.62 817.8,332.5 819.2,325.94 820.6,316.6 822,312.09 823.4,310 824.8,312.45 826.2,316.6 827.65,317.87 829.1,322.2 830.5,322.09 831.9,322.2 833.3,326.69 834.7,333.4 836.6,337.2 838.2,325.9 839.7,319.26 841.2,313.8 842.65,311.84 844.1,308.1 845.5,314.87 846.9,318.4 848.3,320.17 849.7,319.4 851.1,313.4 852.5,310.9 853.73,312.64 854.97,316.63 856.2,317.5 857.47,317.29 858.73,319.51 860,322.2 861.57,324.96 863.13,327.35 864.7,330.6 866.1,327.35 867.5,322.2 868.73,321.16 869.97,318.33 871.2,316.6 872.47,315.45 873.73,315.18 875,316 876.27,315.61 877.53,315.35 878.8,317.5 880.03,320.33 881.27,320.6 882.5,324.1 883.73,329.01 884.97,331.52 886.2,334.4 887.65,335.52 889.1,340 890.5,342.35 891.9,344.7 893.3,338.99 894.7,332.5 896.1,329.81 897.5,330.6 899.4,331.6"/>
<polyline class="ln" stroke="#fdd896" points="903.1,325 905,318.4 906.4,316.05 907.8,313.8 909.13,312.01 910.47,314.81 911.8,313.8 913.55,308.12 915.3,306.2 916.57,304.83 917.83,304.31 919.1,300.6 920.5,300.07 921.9,296.9 923.55,294.49 925.2,294.1 926.8,296.58 928.4,298.8 929.8,299.28 931.2,302.5 932.65,300.5 934.1,299.7 935.5,299.18 936.9,295.9 938.8,300.6 940.6,310.9 941.87,310.54 943.13,305.9 944.4,306.2 945.7,306.88 947,309 948.3,309.6 949.5,306.93 950.7,307.88 951.9,305.3 953.13,306.49 954.37,304.9 955.6,304.4 957,307.63 958.4,311.9 959.67,316.32 960.93,318.15 962.2,321.2 963.43,320.35 964.67,321.02 965.9,322.2 967.17,323.1 968.43,327.89 969.7,328.8 971.1,326.94 972.5,325 973.73,324.18 974.97,323.07 976.2,320.3 977.47,322.4 978.73,319.72 980,321.2 981.4,318.58 982.8,316.6 983.95,314.67 985.1,310 985.1,310.9 986.53,310.33 987.97,307.34 989.4,306.2 990.63,307.13 991.87,305.71 993.1,307.2 994.5,307.31 995.9,310 997.35,306.39 998.8,306.2 1000.2,309.04 1001.6,312.8 1003.4,321.2 1004.8,324 1006.2,328.8 1007.47,328.23 1008.73,329.32 1010,326.9 1011.4,327.43 1012.8,330.6 1014.2,332.72 1015.6,334.4 1017,338.59 1018.4,340 1020.3,343.8 1021.6,339.1 1023.03,339.71 1024.47,339.79 1025.9,340 1027.35,339.92 1028.8,338.1 1030.2,339.97 1031.6,344.7 1033.13,345.53 1034.67,344.04 1036.2,342.8 1037.47,343.32 1038.73,342.75 1040,340.9 1041.4,339.37 1042.8,340.9 1044.2,341.6 1045.6,345.6 1047,343.93 1048.4,344.7 1049.67,341.88 1050.93,340.7 1052.2,336.2 1053.6,333.11 1055,326.9 1056.9,321.2 1058.4,322.2 1060.2,340 1061.8,338.72 1063.4,338.1 1064.8,338.12 1066.2,337.2 1067.65,335.76 1069.1,332.5 1070.5,334.66 1071.9,338.1 1073.3,341.79 1074.7,341.9 1076.1,342.57 1077.5,340 1078.73,340.19 1079.97,340.19 1081.2,338.1 1082.65,341.59 1084.1,342.8 1085.5,347.07 1086.9,350.3 1088.3,349.71 1089.7,350.3 1091.1,345.75 1092.5,342.8 1093.7,342.46 1094.9,344.1 1096.3,341.35 1097.7,343.58 1099.1,340.9 1100.5,340.13 1101.9,340.9 1103.13,340.66 1104.37,343.33 1105.6,345.6 1107,347.84 1108.4,353.1 1109.8,355.24 1111.2,357.8 1112.65,359.51 1114.1,362.5 1115.5,364.07 1116.9,368.1 1118.3,369.91 1119.7,371.9 1120.93,373.74 1122.17,375.68 1123.4,378.4 1125.3,372.8 1127.2,363.4 1129.1,359.7 1130.4,359.94 1131.7,357.8 1133.2,358.97 1134.7,361.6 1136.1,365.51 1137.5,369.1 1138.9,369.59 1140.3,367.2 1141.7,371.15 1143.1,371.9 1144.5,372.42 1145.9,373.8 1147.17,373.99 1148.43,379.18 1149.7,379.4 1151.1,378.05 1152.5,376.6 1154.07,375.42 1155.63,374.82 1157.2,375.6"/>
<polyline class="ln" stroke="#fdd896" points="1160.3,377.8 1161.57,377.44 1162.83,378.35 1164.1,379.7 1165.53,379.89 1166.97,381.12 1168.4,384.4 1170.6,393.8 1172,401.28 1173.4,405 1174.8,404.82 1176.2,402.2 1177.65,397.43 1179.1,395.6 1180.5,392.28 1181.9,389.1 1183.3,392.1 1184.7,392.8 1186.1,389.52 1187.5,386.2 1188.9,382.26 1190.3,381.6 1191.57,381.59 1192.83,382.35 1194.1,383.4 1195.33,383.95 1196.57,381.83 1197.8,380.6 1199.07,381.39 1200.33,382.92 1201.6,383.4 1203.25,383.88 1204.9,387.2 1206.5,387.26 1208.1,386.2 1209.37,387.78 1210.63,387.99 1211.9,388.1 1213.13,388.9 1214.37,389.92 1215.6,391.9 1217,393.02 1218.4,397.5 1219.8,396.07 1221.2,397.5 1222.65,394.09 1224.1,392.8 1225.5,395.43 1226.9,398.4 1228.3,401.77 1229.7,403.1 1231.1,403.94 1232.5,406.9 1233.73,407.73 1234.97,409.28 1236.2,409.7 1237.65,410.19 1239.1,409.7 1240.4,404.13 1241.7,402.2 1243.2,404.75 1244.7,404.1 1246.1,406.77 1247.5,408.8 1248.9,412.7 1250.3,418.1 1251.7,418.51 1253.1,420.9 1254.37,421.32 1255.63,421.94 1256.9,420 1258.3,421.28 1259.7,423.8 1261.1,427.11 1262.5,431.2 1263.65,437.07 1264.8,442.5 1266,437.51 1267.2,435 1268.6,436.54 1270,438.8 1271.4,445.99 1272.8,450 1274.2,454.91 1275.6,459.4 1276.9,462.98 1278.2,464.1 1280.3,457.5 1282.2,444.4 1284.1,434.1 1285.5,430.35 1286.9,428.4 1288.3,427.5 1289.7,423.8 1291.1,422.02 1292.5,418.1 1293.9,415.21 1295.3,414.4 1297.2,423.8 1299.1,412.5 1300.9,408.8 1302.35,409.81 1303.8,410.6 1305.2,408.04 1306.6,404.1 1308,403.43 1309.4,402.2 1310.8,402.59 1312.2,402.2 1313.6,399.76 1315,399 1316.4,399.82 1317.8,400.3 1319.2,401.71 1320.6,404.1 1322,409.17 1323.4,412.5 1324.8,411.16 1326.2,410.6"/>
<polyline class="ln" stroke="#fdd896" points="1330,401.2 1331.4,404.59 1332.8,405 1334.2,406.63 1335.6,407.8 1336.87,406.5 1338.13,406.89 1339.4,406.9 1341.2,410.6 1342.65,407.34 1344.1,406.9 1345.5,409.59 1346.9,410.6 1348.47,408.61 1350.03,409.94 1351.6,409.1 1352.85,403.79 1354.1,399.7 1355.5,396.43 1356.9,391.2 1358.3,389.52 1359.7,390.3 1361.1,390.99 1362.5,390.3 1363.9,391.56 1365.3,391.2 1366.7,391.14 1368.1,393.1 1369.5,389.55 1370.9,388.4 1372.8,389.4 1374.2,393.75 1375.6,398.8 1377,401.06 1378.4,402.5 1379.67,400.87 1380.93,399.21 1382.2,399.7 1383.6,400.46 1385,401.6 1386.7,402.63 1388.4,401.6 1390,402.26 1391.6,405.3 1392.83,406.53 1394.07,405.32 1395.3,405.3 1396.57,403.45 1397.83,402.35 1399.1,402.5 1400.5,404.95 1401.9,408.1 1403.3,410.88 1404.7,413.8 1406.1,414.16 1407.5,416.6 1409.2,416.2 1410.9,418.4"/>
<polyline class="ln" stroke="#fdd896" points="1414.1,414.7 1415.5,417.05 1416.9,419.4 1418.3,420.45 1419.7,423.1 1421.1,420.54 1422.5,418.4 1423.7,416.06 1424.9,414.1 1426.5,415.15 1428.1,414.7 1429.37,415.63 1430.63,414.93 1431.9,416.6 1433.3,416.78 1434.7,419.4 1436.6,428.8 1438,432.96 1439.4,434.4 1440.63,431.76 1441.87,431.1 1443.1,431.6 1444.5,427.12 1445.9,425.9 1447.35,432.79 1448.8,437.2 1450.03,437.99 1451.27,440.08 1452.5,439.1 1453.73,439.88 1454.97,439.08 1456.2,440 1457.58,440.24 1458.95,441.75 1460.33,440.5 1461.7,441.9 1463.2,443.91 1464.7,443.8 1465.93,444.42 1467.17,444.14 1468.4,446.6 1469.67,447.13 1470.93,448.62 1472.2,449.4 1473.6,446.62 1475,445.6 1476.27,447.28 1477.53,447.96 1478.8,447.5 1480.2,449.38 1481.6,451.2 1483,454.61 1484.4,455 1485.63,456.66 1486.87,457.01 1488.1,457.8 1489.5,457 1490.9,458.8 1492.35,459.57 1493.8,456.9 1495.6,451.2 1496.9,447.39 1498.2,440.4 1499.4,428.8 1500.9,406.2 1502.2,387.5 1503.7,357.5 1504.5,345.5 1505.5,350 1506.3,365 1507.8,380 1509.3,386 1510.8,389 1512.3,393.5 1514.5,393.5 1516,380 1517.5,371.8 1518.65,371.97 1519.8,372.5 1522,371 1523.15,370.96 1524.3,371.8 1525.8,375.5 1528,380 1529.15,378.78 1530.3,380.8 1531.8,372.5 1533.3,365 1535.1,356.8"/>
<polyline class="ln" stroke="#7fd1d6" points="215,245.5 216.2,230.6 217.8,216.6 219.4,208.8 220.55,209.82 221.7,210.3 223.3,200.9 224.45,200.65 225.6,199.4 227.2,204.1 228.8,213.4 230.3,218.1 231.9,216.6 233.4,210.3 235,200.9 236.15,199.75 237.3,196.2 238.9,200.9 240.5,211.9 242,224.4 243.6,227.5 245.2,221.2 246.7,213.4 247.9,210.25 249.1,208.8 250.6,204.8 252.2,203 253.4,185.3 255,174.4 256.9,175.2 258.4,180.6 259.7,191.6 261.2,205.6 263.1,216.6 264.7,218.9 266.6,218.1 268.6,217.3 270.2,232.2 271.7,255.6 273.3,272.8 275.3,271.2 277.2,265 278.8,260.3 279.95,263.23 281.1,265 282.25,268.84 283.4,269.7 284.6,272.8 285.8,272.8 287.05,270.81 288.3,271.2 290,279.8 292,279.1 293.2,275.73 294.4,271.2 295.55,267 296.7,261.9 297.9,258.76 299.1,255.6 300,254 302.2,260 303.35,266.27 304.5,269 305.65,273.21 306.8,277.2 309,277.2 311.2,275 312.35,270.29 313.5,266 315,258.5 317.2,257 318.35,258.69 319.5,257 320.65,258.62 321.8,259.2 323.45,254.34 325.1,251 327,260 328.5,269 329.65,269.78 330.8,272 333,269.8 335.2,269 336.8,260 338.2,255.5 339.8,251 342,249.5 343.5,253.2 345,242 347.2,234.5 348.35,233.34 349.5,232.2 351,229.8 352.5,230.8 353.65,233.06 354.8,234.5 357,236 359.2,237.5 360.4,240.55 361.6,242 363.8,248 366,255.5 368.2,260 369.7,259.72 371.2,260 372.35,259.07 373.5,255.5 375,248 377.2,241.2 378.35,243.23 379.5,242 380.65,245.21 381.8,248 384,255.5 386.2,260 387.35,259.19 388.5,257 389.65,257.45 390.8,260.8 393,258.5 394.5,256.46 396,257.8 397.4,260.12 398.8,258.8 400.33,256.08 401.87,253.91 403.4,253.1 405.3,260.6 407.2,288.8 409.1,299.1 410.9,292.5 412.35,286.51 413.8,277.5 415.33,277.82 416.87,274.8 418.4,275.6 419.97,272.12 421.53,269.02 423.1,267.2 424.5,270.54 425.9,275.6 427.17,275.92 428.43,280.09 429.7,282.2 430.93,285.52 432.17,289.93 433.4,294.4 434.9,290.2 436.5,286.4 438.1,285 439.37,286.02 440.63,288.23 441.9,292.5 443.13,292.05 444.37,289.71 445.6,286.9 446.87,283.36 448.13,277.94 449.4,275.6 450.8,272.87 452.2,271.35 453.6,270.7 455,270 456.4,273.92 457.8,281.2 459.2,285.55 460.6,291.6 462.17,289.54 463.73,288.57 465.3,288.8 466.58,289 467.86,287.88 469.14,287.56 470.42,286.74 471.7,286.9 473.2,283.75 474.7,280.3 476.27,281.68 477.83,280.17 479.4,281.2 480.97,279.57 482.53,281.13 484.1,281.2 485.33,278.27 486.57,277.33 487.8,273.8 489.37,275.76 490.93,282.08 492.5,284.1 494.07,284.12 495.63,287.99 497.2,289.7 498.6,288.79 500,287.6 501.4,289.08 502.8,286.9 504.15,287.04 505.5,284.37 506.85,285.01 508.2,284.4 509.83,285.66 511.47,284.29 513.1,286.9 514.52,283.91 515.95,284.44 517.38,283.5 518.8,281.2 520.2,283.18 521.6,285.15 523,287.6 524.4,289.7 525.8,287.14 527.2,287.83 528.6,286.5 530,283.1 531.57,276.46 533.13,268.14 534.7,263.4 535.93,262.71 537.17,263.95 538.4,262.5 539.67,265.6 540.93,268.53 542.2,273.8 543.6,278.4 545,285.4 546.27,283.87 547.53,281.2 548.8,278.4 550.2,277.59 551.6,278.87 553,279.39 554.4,278.4 555.97,280.8 557.53,280.93 559.1,280.3 560.5,284.3 561.9,288.8 563.47,291.21 565.03,292.88 566.6,292.5 567.83,296.7 569.07,299.05 570.3,300.9 571.7,299.6 573.1,297.69 574.5,297.36 575.9,294.4 577.17,297.38 578.43,300.24 579.7,301.9 581.8,305.2 583.1,308.12 584.4,313.1 585.8,311.88 587.2,312.88 588.6,314.39 590,314.4 591.4,318.88 592.8,322.8 594.2,319.3 595.6,318.1 597,314.57 598.4,313.4 599.8,317.46 601.2,318.1 602.65,320.22 604.1,325.6 605.33,324.72 606.57,321.63 607.8,318.1 609.2,321.23 610.6,323.8 612,333.18 613.4,338.8 615.3,355.6 616.8,356.48 618.3,356 619.6,358.63 620.9,365 622.8,392.2 624.2,378.37 625.6,361.2 627.17,359.94 628.73,360.92 630.3,358.4 631.57,363.66 632.83,365.16 634.1,370.6 635.9,374.4 637.35,366.05 638.8,361.2 640.2,357.98 641.6,358.4 643,362.77 644.4,365 646.2,377.2 647.65,375.01 649.1,370.6 650.9,367.8 652.3,369.27 653.7,371.33 655.1,375.3 656.3,380.89 657.5,387.5 659.4,396.9 660.6,407.89 661.8,416.6 663.7,404.4 665.9,389.4 667.8,395 669.2,400.61 670.6,404.4 672,401.09 673.4,395 674.97,395.85 676.53,394.1 678.1,392.2 679.5,392.08 680.9,389.4 682.05,384.26 683.2,382.8 684.6,387.02 686,395 687.2,393.58 688.4,389.4 690,388.9 691.6,387.5 692.85,384.04 694.1,381.9 695.5,375.79 696.9,372.5 698.3,369.06 699.7,366.9 700.93,365.36 702.17,365.02 703.4,364.1 704.67,362.94 705.93,361.04 707.2,361.2 708.6,356.36 710,354.7 711.4,352.17 712.8,351.9 714.7,355.6 716.1,348.59 717.5,344.4 719.4,335 720.8,334.43 722.2,336.9 723.43,335.01 724.67,332.36 725.9,332.2 727.15,337.34 728.4,340.2 730,343.37 731.6,346.2 733,348.9 734.4,351.9 735.63,354.6 736.87,355.23 738.1,358.4 739.5,355.69 740.9,356.6 742.17,356.87 743.43,359.71 744.7,362.2 745.93,361.97 747.17,361.86 748.4,363.1 749.67,363.63 750.93,366.9 752.2,366.9 753.6,369.68 755,376.2 756.9,381.9 758.3,377.01 759.7,372.5 761.1,373.46 762.5,375.3 763.7,370.52 764.9,367.4 766.5,368.95 768.1,368.8 769.5,366.8 770.9,366.9 772.17,366.73 773.43,368.74 774.7,371.6 776.1,376.53 777.5,378.1 778.73,377.85 779.97,377.33 781.2,379.1 782.47,382.14 783.73,382.69 785,383.8 786.4,387.83 787.8,388.4 788.95,386.36 790.1,385.6 791.6,385.3 792.83,384.61 794.07,379.82 795.3,379.7 797.2,380.6 799.1,391.9 800.4,395.1 801.7,400.3 803.2,403.32 804.7,404.1 806.1,406.51 807.5,408.8 808.9,408.95 810.3,406.9 811.7,409.27 813.1,412.5 814.5,419.58 815.9,423.8 817.35,419.84 818.8,419.1 820.2,415.32 821.6,410.6 823,409.92 824.4,411.6 826.2,419.1 827.65,420.31 829.1,423.8 830.4,435 831.6,436.01 832.8,434.1 834.7,442.5 836.6,449.1 838.2,435.6 840.3,431.2 842.2,420 843.6,419.28 845,419.1 846.4,424.49 847.8,427.5 849.7,418.1 851.1,412.63 852.5,408.8 853.9,411.97 855.3,413.4 856.7,417.3 858.1,418.1 859.37,418.92 860.63,417.76 861.9,419.1 863.55,421.14 865.2,421.9 866.6,410.6 868,409.51 869.4,405 871.2,405 873.1,393.8 875,396 876.4,395.54 877.8,392.8 879.2,394.49 880.6,396.6 881.87,396.52 883.13,395.67 884.4,397.5 886.2,405 888.1,411.6 889.37,412.51 890.63,410.44 891.9,411.6 893.3,407.79 894.7,405.9 896.1,405.28 897.5,407.8 899.4,408.8"/>
<polyline class="ln" stroke="#7fd1d6" points="902.8,404.1 905,394.7 906.4,391.52 907.8,390.9 909.13,389.86 910.47,389.61 911.8,389.1 913.1,381.27 914.4,375.9 915.8,374.71 917.2,374.1 918.6,372.23 920,368.4 921.57,366.87 923.13,367.01 924.7,368.4 926.1,372.74 927.5,376.9 928.9,380.28 930.3,380.6 931.57,380.62 932.83,377.73 934.1,375.9 935.5,373.45 936.9,374.1 939.1,376.9 941,385.3 942.2,381.57 943.4,375 944.8,379.22 946.2,379.7 948.3,384 949.5,383.45 950.7,379.98 951.9,377.8 953.3,376.4 954.7,375.9 956.1,379.08 957.5,381.6 958.9,385.95 960.3,388.1 962.2,392.8 963.6,394.23 965,391.9 966.4,394.23 967.8,396.6 969.2,396.63 970.6,396.6 972,393.08 973.4,390.9 974.8,389.18 976.2,387.2 977.65,388.73 979.1,390 980.5,387.95 981.9,387.2 983.5,383.76 985.1,380.6 985.1,380.3 986.53,380.95 987.97,377.43 989.4,377.5 990.8,377.51 992.2,379.4 993.6,379.56 995,381.2 996.27,379.76 997.53,374.85 998.8,372.8 1000.2,376.39 1001.6,377.5 1003.4,386.9 1004.8,392.28 1006.2,394.4 1007.65,394.88 1009.1,392.5 1010.5,390.86 1011.9,386.9 1013.3,384.79 1014.7,385 1016.1,387.61 1017.5,390.6 1018.9,394.63 1020.3,396.2 1021.6,391.6 1023.3,393.43 1025,397.2 1026.27,397.59 1027.53,398.61 1028.8,397.2 1030.2,403.05 1031.6,405.6 1033,406.93 1034.4,409.4 1035.8,408.85 1037.2,411.2 1038.6,411.32 1040,415 1041.4,411.5 1042.8,409.4 1044.2,412.38 1045.6,415 1047,412.27 1048.4,411.2 1049.67,411.2 1050.93,409.3 1052.2,407.5 1053.6,405.16 1055,401.9 1056.7,402.19 1058.4,400 1060,405.45 1061.6,412.2 1062.83,412.44 1064.07,410.97 1065.3,411.2 1066.57,408.23 1067.83,405.4 1069.1,404.7 1070.33,407.96 1071.57,410.55 1072.8,411.2 1074.07,408.49 1075.33,410.16 1076.6,408.4 1077.83,405.5 1079.07,405.62 1080.3,404.7 1081.57,405.87 1082.83,409.96 1084.1,410.3 1085.67,410.98 1087.23,412.21 1088.8,413.1 1090.6,403.8 1092,402.3 1093.4,401.9 1095,392.8 1096.27,391.97 1097.53,392.02 1098.8,393.1 1100.2,389.59 1101.6,389.4 1103,388.95 1104.4,392.2 1105.63,393.96 1106.87,396.24 1108.1,396.9 1110,406.2 1111.4,408.75 1112.8,410 1114.2,411.44 1115.6,414.7 1117,420.31 1118.4,422.2 1119.8,422.45 1121.2,425.9 1122.65,422.84 1124.1,420.3 1125.5,418.27 1126.9,417.5 1128.3,415.83 1129.7,416.6 1131.8,409.6 1133.1,414.74 1134.4,416.6 1135.8,419.22 1137.2,420.3 1138.43,419.41 1139.67,419.85 1140.9,421.2 1142.17,423.42 1143.43,423.34 1144.7,425 1145.93,424.65 1147.17,424.93 1148.4,425.9 1150.3,428.8 1152.2,425 1153.6,425.57 1155,426.9 1156.9,427.8"/>
<polyline class="ln" stroke="#7fd1d6" points="1160.2,430.6 1161.8,430.04 1163.4,428.8 1165.3,429.7 1166.8,431.53 1168.3,434.8 1169.6,439.65 1170.9,443.8 1172.8,450.3 1174.7,453.1 1176.1,449.59 1177.5,449.4 1178.9,446.23 1180.3,442.8 1181.7,442.67 1183.1,441.9 1184.5,441.75 1185.9,442.8 1187.35,440.61 1188.8,436.2 1190.03,438.11 1191.27,437.93 1192.5,438.1 1193.9,439.24 1195.3,440.9 1196.57,439.8 1197.83,440.6 1199.1,440 1200.5,440.79 1201.9,442.8 1203.5,443.32 1205.1,446 1206.75,447.29 1208.4,448.4 1209.8,449.49 1211.2,452.2 1212.65,452.61 1214.1,452.2 1215.5,456.34 1216.9,458.8 1218.8,463.4 1220.2,461.92 1221.6,463.4 1223,462.41 1224.4,460.6 1226.2,466.2 1227.65,466.95 1229.1,470 1230.5,470.86 1231.9,472.8 1233.8,473.8 1235.2,473.15 1236.6,470.9 1238,473.15 1239.4,471.9 1241.6,462.1 1242.85,462.68 1244.1,464.4 1245.5,466.15 1246.9,466.2 1248.8,471.9 1250.2,473.68 1251.6,476.6 1252.83,478.57 1254.07,475.96 1255.3,477.5 1256.57,477.83 1257.83,475.32 1259.1,476.6 1260.5,479.63 1261.9,482.2 1263.13,483.76 1264.37,485.04 1265.6,484.1 1267,481.81 1268.4,477.5 1269.8,474.39 1271.2,470.9 1273.1,475.6 1274.5,479.92 1275.9,485 1277.15,488.29 1278.4,490.6 1280.3,476.2 1282.2,468.8 1284.1,461.2 1285.5,458.96 1286.9,455.6 1288.3,454.62 1289.7,452.8 1291.1,454.56 1292.5,454.7 1293.73,455.33 1294.97,455.76 1296.2,453.8 1297.65,450.91 1299.1,447.2 1300.5,446.92 1301.9,444.4 1303.3,445.95 1304.7,446.2 1306.1,443.59 1307.5,441.6 1308.73,442.06 1309.97,440.58 1311.2,440.6 1312.47,442.16 1313.73,442.93 1315,442.5 1316.27,444.36 1317.53,445.33 1318.8,445.3 1320.03,446.67 1321.27,447.16 1322.5,448.1 1323.73,447.94 1324.97,449.09 1326.2,449.1"/>
<polyline class="ln" stroke="#7fd1d6" points="1330,441.6 1331.4,444.49 1332.8,444.4 1334.2,446.27 1335.6,449.1 1337,449.4 1338.4,451.9 1339.8,450.03 1341.2,446.2 1342.65,446.36 1344.1,443.4 1345.5,444.68 1346.9,448.1 1348.47,446.78 1350.03,446.62 1351.6,447.9 1352.85,443.17 1354.1,438.1 1355.5,436.95 1356.9,433.4 1358.3,432.14 1359.7,432.5 1361.1,433.08 1362.5,431.6 1363.9,430.57 1365.3,432.5 1366.7,432.9 1368.1,435.3 1369.5,432.17 1370.9,428.8 1372.35,429.93 1373.8,429.7 1375.2,432.93 1376.6,436.2 1377.83,437.34 1379.07,437.09 1380.3,438.1 1381.57,438.37 1382.83,439.43 1384.1,440 1385.53,438.61 1386.97,439.35 1388.4,440.4 1390,442.61 1391.6,445.6 1392.83,446.65 1394.07,446.07 1395.3,447.5 1396.57,446.62 1397.83,448 1399.1,446.6 1400.5,448.8 1401.9,450.3 1403.3,451.99 1404.7,454.1 1406.1,455.74 1407.5,455.9 1409.2,456.87 1410.9,456.9"/>
<polyline class="ln" stroke="#7fd1d6" points="1414.1,454.1 1415.5,457.09 1416.9,457.8 1418.13,459.56 1419.37,461.32 1420.6,462.5 1422.5,458.8 1423.7,455.37 1424.9,455 1426.5,453.33 1428.1,452.2 1429.5,450.39 1430.9,449.4 1432.35,447.52 1433.8,447.5 1435.6,455 1437.5,460.6 1438.73,461.35 1439.97,464.6 1441.2,464.4 1442.65,461 1444.1,459.7 1445.5,461.98 1446.9,467.2 1448.13,467.51 1449.37,467.81 1450.6,470 1451.87,468.97 1453.13,472.7 1454.4,471.9 1455.63,472.35 1456.87,470.97 1458.1,472.8 1459.3,471.84 1460.5,469.59 1461.7,469.6 1463.2,471.15 1464.7,472.8 1465.93,474.38 1467.17,474.8 1468.4,473.8 1469.8,475.35 1471.2,477.5 1472.47,477.39 1473.73,475.61 1475,474.7 1476.4,475.76 1477.8,479.4 1479.2,480 1480.6,481.2 1482,484.66 1483.4,485.9 1484.8,488.86 1486.2,489.7 1487.47,491.35 1488.73,493.15 1490,492.1 1491.4,490.45 1492.8,489.7 1494.7,486.9 1496.6,477.5 1498.2,463.4 1499.8,447.5 1501.2,425 1502.8,396.9 1504,380 1504.8,364.3 1505.5,365 1506.3,392 1507.8,398 1509.3,403.3 1510.8,405.6 1512.3,411.6 1513.8,416.1 1515.3,416.1 1516.8,404.1 1518.3,396.5 1520.5,395 1521.65,396.52 1522.8,396.5 1525,398 1526.5,403.3 1527.65,405.26 1528.8,404.8 1530.3,404.1 1531.8,395 1533.3,386 1535.1,373.6"/>
<polyline class="ln" stroke="#9e9e9e" points="215,245.5 216.2,233.8 217.8,224.4 219,221.7 220.2,219.7 221.35,219.46 222.5,218.9 223.65,218.73 224.8,215.8 226.9,220.5 229.1,225.2 231.1,222.8 232.25,218.82 233.4,217.3 235,208.8 236.9,198.6 238.9,201.7 240.5,211.9 242,220.5 243.6,225.2 245.2,216.6 247,211.1 249.1,213.8 250.6,210.3 252.2,207.7 253.8,196.2 255.3,187.3 256.9,191.6 258.4,198.6 260.3,210.3 262.3,224.4 263.9,233.8 265.5,227.5 267,225.2 268.6,225.9 270.2,236.9 271.7,252.5 273.3,265 274.8,268.1 276.4,258.8 278,255.6 279.5,261.9 281.1,265 282.7,257.2 284.2,254.8 286.1,262.7 288.3,266.2 289.75,263.01 291.2,261.9 292.4,257.76 293.6,257.2 294.75,253.39 295.9,252.5 297.1,248.68 298.3,248.6 300,248 301.5,247.45 303,249.5 305.2,257 306.35,260.8 307.5,264.5 309,266 310.5,258.5 311.65,256.61 312.8,251 315,248 317.2,243.5 318.35,243.49 319.5,242 320.65,242.29 321.8,243.5 323.45,239.39 325.1,236 326.45,239.73 327.8,242 330,251 332.2,252.5 333.35,251.49 334.5,251.8 335.65,245.28 336.8,242 339,237.5 341.2,236 342.8,230 344.2,234.5 345.8,227 348,225.5 350.2,221 351.35,220.22 352.5,217.2 353.65,219.47 354.8,221 357,222.5 359.2,223.2 360.4,222.27 361.6,224 363.8,225.5 366,230 367.8,234.5 369.8,227.8 372,222.5 374.2,218 375.35,214.12 376.5,213.5 377.65,209.71 378.8,209 380.3,209.99 381.8,207.5 384,213.5 386.2,218.8 387.35,216.18 388.5,216.5 390,210.5 392.2,206 393.8,202.2 395.7,203.8 395.9,202.5 397.1,204.83 398.3,206.2 399.45,204.73 400.6,199.7 401.8,195.58 403,195 404.4,193.1 405.8,196.9 406.7,211.9 407.7,225 409.1,227.8 410.5,226.9 411.4,217.5 412.8,211.9 414.2,206.2 415.6,204.4 417,199.7 418.9,200.6 420.8,198.8 422.7,198.8 424.5,199.7 425.9,203.4 427.3,209.1 428.8,217.5 429.95,218.05 431.1,219.4 433,219.8 434.4,217.5 435,210.5 436.2,205.3 437.7,202.5 439.1,202.5 440.5,207.2 442.3,207.2 443.8,210.9 445.6,211.9 447,215.2 448.9,214.7 450.3,206.2 451.7,202.5 453.6,202.5 455.5,201.6 456.9,202 458.8,206.2 460.2,214.7 461.6,216.6 463.4,214.7 465.3,217.5 466.7,221.2 468.6,225 470,228.8 471.7,221.2 473.3,225.9 474.7,230.6 476.6,231.1 478,225 479.4,220.3 481.2,215.6 483.1,213.8 485,214.7 486.9,213.8 488.8,210 490.6,209.5 492.5,213.8 494.4,214.2 495,212.8 496.9,214.2 498.3,214.15 499.7,214.2 501.1,214.48 502.5,212.8 504.4,210 506.2,209.1 508.3,202 510,207.2 511.9,208.1 513.8,206.2 515.2,202.5 516.6,195.9 518.4,195.9 520.3,199.7 522.2,200.6 523.35,198.75 524.5,198.3 526.4,200.2 528.3,200.6 530.2,202.5 531.6,205.3 533,205.8 534.4,200.6 535.8,194.1 537.2,192.2 539.1,192.2 540.5,195 541.9,195.9 543.3,196.4 544.2,204.4 545.2,207.7 546.8,207.23 548.4,207.7 549.8,207.45 551.2,208.1 553.1,207.2 555,206.2 556.4,204.4 557.8,202.5 559.2,203.4 560.2,211.9 561.1,220.3 562.5,223.1 563.9,226.9 565.8,230.6 566.95,229.39 568.1,231.6 570,232.5 571.4,229.7 572.8,225.9 574.2,226.9 575.6,232.5 577,236.2 578.4,239.1 579.8,240 581.6,242.1 583.4,253.1 584.67,254.69 585.93,256.17 587.2,255.9 588.6,255.21 590,255 591.4,257.94 592.8,264.4 592.8,266.2 594.07,263.91 595.33,260.9 596.6,256.9 598.13,257.78 599.67,256.85 601.2,257.8 602.47,258.12 603.73,256.43 605,255 606.27,253.61 607.53,251.69 608.8,249.8 610.2,253.29 611.6,258.8 613,267.98 614.4,277.5 616.2,286.9 618.3,282.8 620,288.8 621.4,301.77 622.8,312.5 624.2,302.9 625.6,291.9 627.5,285 628.73,284.41 629.97,286.21 631.2,285 632.65,291.89 634.1,296.2 635.9,300 637.8,290.6 639.7,294.4 641.1,295.02 642.5,299.1 643.73,302.26 644.97,306.98 646.2,312.5 648.1,318.1 649.37,316.26 650.63,319.06 651.9,318.1 653.5,317.56 655.1,315.9 656.3,321.86 657.5,327.5 659.4,336.9 660.8,350.03 662.2,359.4 664.1,344.4 665.9,330.3 667.35,331.66 668.8,334.1 670.2,329.66 671.6,327.5 673,324.62 674.4,324.7 675.63,322.83 676.87,323.45 678.1,320.9 679.37,319.14 680.63,314.89 681.9,314.4 683.8,309.7 685.2,315.05 686.6,320.9 688.4,314.4 690,311.53 691.6,312.1 692.85,309.97 694.1,306.9 695.5,298.92 696.9,293.8 698.8,288.8 700.03,286.95 701.27,288.07 702.5,286.9 704.07,288.18 705.63,287.35 707.2,286.9 708.6,281.42 710,277.5 711.4,277.1 712.8,275.6 714.2,271.93 715.6,270 717,261.58 718.4,256.9 719.8,257.89 721.2,260.6 722.47,259.15 723.73,256.75 725,254.1 726.7,255.98 728.4,260.2 730,262.64 731.6,262.5 733,268.46 734.4,271.9 735.8,268.21 737.2,266.2 738.6,268.45 740,267.2 741.4,264.9 742.8,264.4 744.2,266.95 745.6,272.8 746.87,270.65 748.13,269.79 749.4,266.2 750.63,267.85 751.87,268.91 753.1,270 754.37,272.45 755.63,274.18 756.9,277.5 758.3,274.89 759.7,273.8 761.1,269.18 762.5,265.3 763.7,264.08 764.9,262.5 766.5,262.78 768.1,259.7 769.5,257.13 770.9,257.8 772.17,257.79 773.43,261.35 774.7,260.6 776.1,266.85 777.5,271.9 778.73,271.52 779.97,274.14 781.2,275.6 782.65,281.82 784.1,286.9 785.5,290.32 786.9,290.6 788.3,282.47 789.7,277.5 790.6,280 792,280.58 793.4,278.1 794.8,279.13 796.2,278.1 798.1,287.5 800,298.8 801.7,301 803.2,301.86 804.7,304.4 806.1,305.43 807.5,306.2 808.9,305.14 810.3,301.6 811.7,305.77 813.1,311.9 815,322.2 816.4,324.37 817.8,325 819.2,317.73 820.6,310 822,306.03 823.4,305.3 824.8,307.73 826.2,311.9 827.65,314.37 829.1,317.5 830.5,315.18 831.9,315.6 833.3,321.99 834.7,325 836.6,327.8 838.2,319.9 839.7,312.1 841.2,306.2 842.65,302.88 844.1,301.6 845.5,306.17 846.9,310 848.3,311.05 849.7,311.9 851.1,307.46 852.5,304.4 853.73,305.6 854.97,308.12 856.2,310 857.47,313.12 858.73,311.53 860,314.7 861.57,318.13 863.13,320.1 864.7,320.3 866.1,317.75 867.5,313.8 868.73,313.38 869.97,310.22 871.2,309.1 872.47,310.52 873.73,309.35 875,308.1 876.27,309.44 877.53,309.17 878.8,310 880.03,310.81 881.27,314.46 882.5,315.6 883.73,319.63 884.97,319.99 886.2,325 887.65,326.18 889.1,328.8 890.3,330.59 891.5,332.1 892.65,326.06 893.8,322.2 895.2,320.14 896.6,320.9 898.4,322.2"/>
<polyline class="ln" stroke="#9e9e9e" points="902.8,316.6 905,310 906.4,306.46 907.8,305.3 909.13,303.46 910.47,303.86 911.8,305.3 913.55,301.14 915.3,297.8 916.57,295.94 917.83,294.59 919.1,292.2 920.5,289.57 921.9,288.4 923.55,285.59 925.2,285.6 926.8,289.55 928.4,290.3 929.8,293.15 931.2,295 932.65,293.33 934.1,290.3 935.5,290.07 936.9,288.4 938.3,290.07 939.7,293.1 941.6,300.6 943,298.16 944.4,295 945.7,296.18 947,299.31 948.3,300.6 949.5,300.87 950.7,296.9 951.9,297.8 953.13,298.62 954.37,295.75 955.6,296.9 957,298.81 958.4,304.4 959.67,304.65 960.93,308.37 962.2,310 963.43,312.63 964.67,314.15 965.9,313.8 967.17,315.3 968.43,319.13 969.7,322.2 971.1,321.53 972.5,317.5 973.73,317.41 974.97,315.61 976.2,312.8 977.47,312.78 978.73,313.81 980,315.6 981.4,312.42 982.8,311.9 983.95,307.25 985.1,304.4 985.1,304 986.53,302.84 987.97,303.53 989.4,301.6 990.63,303.14 991.87,302.22 993.1,304.4 994.5,303.63 995.9,305.3 997.35,302.76 998.8,300.6 1000.2,304.88 1001.6,306.2 1003.4,315.6 1004.8,320.19 1006.2,325 1007.47,324.53 1008.73,322.58 1010,320.3 1011.4,324.09 1012.8,325 1014.2,326.89 1015.6,328.8 1017,330.19 1018.4,332.5 1020,331.19 1021.6,330.2 1023.03,332.6 1024.47,332.27 1025.9,334.4 1027.35,331.46 1028.8,330.6 1030.2,334.49 1031.6,336.2 1033.13,336.13 1034.67,336.67 1036.2,336.2 1037.47,334.96 1038.73,334.46 1040,336.2 1041.9,332.5 1043.3,334.26 1044.7,338.1 1046.1,339.23 1047.5,340.9 1048.9,336.78 1050.3,336.2 1051.57,332.24 1052.83,331.68 1054.1,326.9 1055.9,320.3 1057.15,319.11 1058.4,318.4 1059.7,323.1 1061.6,334.4 1062.83,331.58 1064.07,333.68 1065.3,331.6 1066.57,328.65 1067.83,325.96 1069.1,325 1070.5,328.32 1071.9,330.6 1073.3,332.63 1074.7,333.4 1076.1,332.28 1077.5,332.5 1078.73,332.35 1079.97,332.04 1081.2,329.7 1082.65,331.49 1084.1,334.4 1085.33,336.56 1086.57,337.22 1087.8,340.9 1089.2,339.76 1090.6,338.1 1092.5,333.4 1093.7,332.21 1094.9,332.5 1096.3,333.07 1097.7,333.47 1099.1,332.5 1100.5,330.94 1101.9,330.6 1103.13,332.47 1104.37,334.72 1105.6,334.4 1107,335.49 1108.4,339.1 1109.8,343.48 1111.2,345.6 1112.65,347.86 1114.1,350.3 1115.5,355.29 1116.9,356.9 1118.3,356.68 1119.7,359.7 1121.1,362.51 1122.5,366.2 1124.4,362.5 1126.2,354.1 1127.65,351.87 1129.1,352.2 1130.4,349.38 1131.7,348.4 1133.2,352.73 1134.7,354.1 1136.1,357.02 1137.5,359.7 1138.9,357.26 1140.3,355.9 1141.7,360.41 1143.1,361.6 1144.5,360.81 1145.9,363.4 1147.17,363.15 1148.43,367.54 1149.7,368.1 1151.1,366.9 1152.5,365.3 1153.73,366.34 1154.97,365.29 1156.2,365.3"/>
<polyline class="ln" stroke="#9e9e9e" points="1160.3,366.6 1161.57,368.59 1162.83,366.56 1164.1,367.5 1165.53,368.24 1166.97,372.49 1168.4,372.8 1170.6,380.6 1172.5,390 1173.9,390.58 1175.3,390.9 1176.7,385.86 1178.1,384.4 1179.5,378.79 1180.9,376.9 1182.35,376.91 1183.8,380.6 1185.2,377.72 1186.6,373.1 1188,372.2 1189.4,370.3 1190.63,369.55 1191.87,372.63 1193.1,372.2 1194.37,372.3 1195.63,371.03 1196.9,369.8 1198.13,370.21 1199.37,369.93 1200.6,370.3 1202.03,372.61 1203.47,373.52 1204.9,375.6 1206.5,376.84 1208.1,375.9 1209.37,376.48 1210.63,377.04 1211.9,376.9 1213.13,379.1 1214.37,380.2 1215.6,379.7 1217,382.6 1218.4,385.3 1219.8,384.54 1221.2,386.2 1222.65,383.97 1224.1,381.6 1225.5,385.2 1226.9,386.2 1228.3,387.66 1229.7,390.9 1231.1,392.03 1232.5,394.7 1233.73,394.25 1234.97,394.41 1236.2,395.6 1237.65,396.32 1239.1,394.7 1240.4,392.67 1241.7,390.4 1243.2,389.34 1244.7,390.9 1246.1,392.84 1247.5,394.7 1248.9,399.19 1250.3,402.2 1252.2,407.8 1253.43,405.7 1254.67,406.05 1255.9,406.9 1257.17,405.69 1258.43,408.91 1259.7,408.8 1261.1,411.67 1262.5,415.3 1263.65,417.7 1264.8,423.8 1266.6,429.4 1267.85,423.74 1269.1,420 1270.9,417.2 1272.8,425.6 1274.2,430.08 1275.6,436.9 1276.9,442.76 1278.2,448.1 1280.3,444.4 1282.2,431.2 1284.1,421.9 1285.5,418.32 1286.9,415.3 1288.3,412.65 1289.7,410.6 1291.1,407.15 1292.5,405 1293.9,401.85 1295.3,402.2 1297.2,408.8 1299.1,399.4 1300.9,395.6 1302.35,395.89 1303.8,397.5 1305.2,395.21 1306.6,391.9 1308,391.09 1309.4,390 1310.8,390.33 1312.2,390 1313.6,386.84 1315,385.9 1316.4,385.53 1317.8,388.1 1319.2,391.33 1320.6,392.8 1322,396.25 1323.4,398.4 1324.8,397.51 1326.2,395.6"/>
<polyline class="ln" stroke="#9e9e9e" points="1330,388.1 1331.4,391.43 1332.8,391.9 1334.2,392.72 1335.6,394.7 1336.87,395.28 1338.13,393.3 1339.4,393.8 1341.2,397.5 1342.65,396.03 1344.1,393.8 1345.5,397.16 1346.9,397.5 1348.47,396.51 1350.03,396.24 1351.6,395 1352.85,391.98 1354.1,385.6 1355.5,381.81 1356.9,378.1 1358.3,376.16 1359.7,376.2 1361.1,377.48 1362.5,375.3 1363.9,376.91 1365.3,377.2 1366.7,377.49 1368.1,379.1 1369.5,375.57 1370.9,373.4 1372.35,373.53 1373.8,376.2 1375.2,378.94 1376.6,383.8 1377.83,385.33 1379.07,384.55 1380.3,384.7 1381.57,386.1 1382.83,385.25 1384.1,386.6 1385.53,387.65 1386.97,387.24 1388.4,386.6 1390,389.51 1391.6,390.3 1392.83,389.96 1394.07,390.84 1395.3,389.4 1396.57,389.22 1397.83,387.93 1399.1,388.4 1400.5,391.28 1401.9,392.2 1403.3,394.51 1404.7,397.8 1406.1,400.39 1407.5,400.6 1409.2,401.68 1410.9,402.5"/>
<polyline class="ln" stroke="#9e9e9e" points="1414.1,399.7 1415.5,401.75 1416.9,404.4 1418.3,406.3 1419.7,408.1 1421.1,405.83 1422.5,404.4 1423.7,400.67 1424.9,400.1 1426.5,398.77 1428.1,400.6 1429.37,399.41 1430.63,402.75 1431.9,401.6 1433.3,401.02 1434.7,401.6 1436.6,410 1438,412.03 1439.4,417.5 1440.63,416.86 1441.87,417.37 1443.1,416.6 1445,410.9 1446.4,415.15 1447.8,418.4 1449.2,421.87 1450.6,422.2 1451.87,421.69 1453.13,423.75 1454.4,422.2 1455.63,421.59 1456.87,422.99 1458.1,425 1459.3,424.67 1460.5,424.89 1461.7,424.1 1463.2,425.7 1464.7,427.8 1465.93,429.51 1467.17,429.79 1468.4,430.6 1469.67,429.96 1470.93,431.59 1472.2,432.5 1473.6,430.53 1475,427.8 1476.27,428.08 1477.53,428.81 1478.8,430.6 1480.2,432 1481.6,432.5 1483,434.7 1484.4,437.2 1485.63,439.69 1486.87,440.18 1488.1,439.1 1489.5,439.27 1490.9,440.9 1492.35,437.72 1493.8,438.1 1495.6,432.5 1496.9,426.58 1498.2,423.1 1499.4,411.9 1500.3,387.5 1501.8,380 1502.8,350 1503.6,334.3 1505.1,334.3 1505.8,350 1507,362 1508.5,365 1510,368 1511.5,375.5 1512.65,376.74 1513.8,378.5 1515.3,365 1516.8,359.8 1519,358.3 1520.15,358.76 1521.3,359.8 1523.5,357.5 1524.65,358.74 1525.8,360.5 1528,365 1529.15,363.4 1530.3,364.3 1531.8,356 1532.8,351.5 1533.7,352.3"/>
<circle class="sy" stroke="#8eabdc" cx="215.0" cy="245.5" r="3.7"/>
<circle class="sy" stroke="#8eabdc" cx="251.7" cy="230.8" r="3.7"/>
<circle class="sy" stroke="#8eabdc" cx="288.3" cy="247.0" r="3.7"/>
<circle class="sy" stroke="#8eabdc" cx="325.0" cy="223.3" r="3.7"/>
<circle class="sy" stroke="#8eabdc" cx="361.7" cy="210.8" r="3.7"/>
<circle class="sy" stroke="#8eabdc" cx="398.3" cy="193.6" r="3.7"/>
<circle class="sy" stroke="#8eabdc" cx="435.0" cy="197.1" r="3.7"/>
<circle class="sy" stroke="#8eabdc" cx="471.7" cy="194.8" r="3.7"/>
<circle class="sy" stroke="#8eabdc" cx="508.3" cy="190.8" r="3.7"/>
<circle class="sy" stroke="#8eabdc" cx="545.0" cy="189.8" r="3.7"/>
<circle class="sy" stroke="#8eabdc" cx="581.7" cy="190.5" r="3.7"/>
<circle class="sy" stroke="#8eabdc" cx="618.3" cy="203.5" r="3.7"/>
<circle class="sy" stroke="#8eabdc" cx="655.0" cy="210.0" r="3.7"/>
<circle class="sy" stroke="#8eabdc" cx="691.7" cy="204.8" r="3.7"/>
<circle class="sy" stroke="#8eabdc" cx="728.3" cy="180.4" r="3.7"/>
<circle class="sy" stroke="#8eabdc" cx="765.0" cy="179.5" r="3.7"/>
<circle class="sy" stroke="#8eabdc" cx="801.7" cy="179.3" r="3.7"/>
<circle class="sy" stroke="#8eabdc" cx="838.3" cy="189.5" r="3.7"/>
<circle class="sy" stroke="#8eabdc" cx="875.0" cy="194.8" r="3.7"/>
<circle class="sy" stroke="#8eabdc" cx="911.7" cy="193.4" r="3.7"/>
<circle class="sy" stroke="#8eabdc" cx="948.3" cy="191.6" r="3.7"/>
<circle class="sy" stroke="#8eabdc" cx="985.0" cy="192.1" r="3.7"/>
<circle class="sy" stroke="#8eabdc" cx="1021.7" cy="197.9" r="3.7"/>
<circle class="sy" stroke="#8eabdc" cx="1058.3" cy="195.4" r="3.7"/>
<circle class="sy" stroke="#8eabdc" cx="1095.0" cy="194.9" r="3.7"/>
<circle class="sy" stroke="#8eabdc" cx="1131.7" cy="195.4" r="3.7"/>
<circle class="sy" stroke="#8eabdc" cx="1168.3" cy="197.5" r="3.7"/>
<circle class="sy" stroke="#8eabdc" cx="1205.0" cy="154.4" r="3.7"/>
<circle class="sy" stroke="#8eabdc" cx="1241.7" cy="167.1" r="3.7"/>
<circle class="sy" stroke="#8eabdc" cx="1278.3" cy="325.8" r="3.7"/>
<circle class="sy" stroke="#8eabdc" cx="1315.0" cy="267.0" r="3.7"/>
<circle class="sy" stroke="#8eabdc" cx="1351.7" cy="283.7" r="3.7"/>
<circle class="sy" stroke="#8eabdc" cx="1388.3" cy="299.4" r="3.7"/>
<circle class="sy" stroke="#8eabdc" cx="1425.0" cy="306.2" r="3.7"/>
<circle class="sy" stroke="#8eabdc" cx="1461.7" cy="325.2" r="3.7"/>
<circle class="sy" stroke="#8eabdc" cx="1498.3" cy="326.8" r="3.7"/>
<circle class="sy" stroke="#8eabdc" cx="1535.0" cy="198.1" r="3.7"/>
<circle class="sy" stroke="#fdd896" cx="215.0" cy="245.5" r="3.7"/>
<circle class="sy" stroke="#fdd896" cx="251.7" cy="195.2" r="3.7"/>
<circle class="sy" stroke="#fdd896" cx="288.3" cy="268.1" r="3.7"/>
<circle class="sy" stroke="#fdd896" cx="325.0" cy="232.3" r="3.7"/>
<circle class="sy" stroke="#fdd896" cx="361.7" cy="215.1" r="3.7"/>
<circle class="sy" stroke="#fdd896" cx="398.3" cy="197.6" r="3.7"/>
<circle class="sy" stroke="#fdd896" cx="435.0" cy="193.1" r="3.7"/>
<circle class="sy" stroke="#fdd896" cx="471.7" cy="216.0" r="3.7"/>
<circle class="sy" stroke="#fdd896" cx="508.3" cy="194.8" r="3.7"/>
<circle class="sy" stroke="#fdd896" cx="545.0" cy="202.3" r="3.7"/>
<circle class="sy" stroke="#fdd896" cx="581.7" cy="238.1" r="3.7"/>
<circle class="sy" stroke="#fdd896" cx="618.3" cy="286.0" r="3.7"/>
<circle class="sy" stroke="#fdd896" cx="655.0" cy="319.2" r="3.7"/>
<circle class="sy" stroke="#fdd896" cx="691.7" cy="319.0" r="3.7"/>
<circle class="sy" stroke="#fdd896" cx="728.3" cy="259.6" r="3.7"/>
<circle class="sy" stroke="#fdd896" cx="765.0" cy="265.2" r="3.7"/>
<circle class="sy" stroke="#fdd896" cx="801.7" cy="307.2" r="3.7"/>
<circle class="sy" stroke="#fdd896" cx="838.3" cy="325.4" r="3.7"/>
<circle class="sy" stroke="#fdd896" cx="875.0" cy="316.0" r="3.7"/>
<circle class="sy" stroke="#fdd896" cx="911.7" cy="313.8" r="3.7"/>
<circle class="sy" stroke="#fdd896" cx="948.3" cy="309.6" r="3.7"/>
<circle class="sy" stroke="#fdd896" cx="985.0" cy="310.3" r="3.7"/>
<circle class="sy" stroke="#fdd896" cx="1021.7" cy="339.1" r="3.7"/>
<circle class="sy" stroke="#fdd896" cx="1058.3" cy="322.2" r="3.7"/>
<circle class="sy" stroke="#fdd896" cx="1095.0" cy="344.0" r="3.7"/>
<circle class="sy" stroke="#fdd896" cx="1131.7" cy="357.8" r="3.7"/>
<circle class="sy" stroke="#fdd896" cx="1168.3" cy="384.3" r="3.7"/>
<circle class="sy" stroke="#fdd896" cx="1205.0" cy="387.2" r="3.7"/>
<circle class="sy" stroke="#fdd896" cx="1241.7" cy="402.3" r="3.7"/>
<circle class="sy" stroke="#fdd896" cx="1278.3" cy="463.7" r="3.7"/>
<circle class="sy" stroke="#fdd896" cx="1315.0" cy="399.0" r="3.7"/>
<circle class="sy" stroke="#fdd896" cx="1351.7" cy="408.8" r="3.7"/>
<circle class="sy" stroke="#fdd896" cx="1388.3" cy="401.6" r="3.7"/>
<circle class="sy" stroke="#fdd896" cx="1425.0" cy="414.1" r="3.7"/>
<circle class="sy" stroke="#fdd896" cx="1461.7" cy="441.9" r="3.7"/>
<circle class="sy" stroke="#fdd896" cx="1498.3" cy="439.1" r="3.7"/>
<circle class="sy" stroke="#fdd896" cx="1535.0" cy="357.3" r="3.7"/>
<circle class="sy" stroke="#7fd1d6" cx="215.0" cy="245.5" r="3.7"/>
<circle class="sy" stroke="#7fd1d6" cx="251.7" cy="203.6" r="3.7"/>
<circle class="sy" stroke="#7fd1d6" cx="288.3" cy="271.4" r="3.7"/>
<circle class="sy" stroke="#7fd1d6" cx="325.0" cy="251.2" r="3.7"/>
<circle class="sy" stroke="#7fd1d6" cx="361.7" cy="242.2" r="3.7"/>
<circle class="sy" stroke="#7fd1d6" cx="398.3" cy="258.6" r="3.7"/>
<circle class="sy" stroke="#7fd1d6" cx="435.0" cy="290.0" r="3.7"/>
<circle class="sy" stroke="#7fd1d6" cx="471.7" cy="286.9" r="3.7"/>
<circle class="sy" stroke="#7fd1d6" cx="508.3" cy="284.5" r="3.7"/>
<circle class="sy" stroke="#7fd1d6" cx="545.0" cy="285.4" r="3.7"/>
<circle class="sy" stroke="#7fd1d6" cx="581.7" cy="305.0" r="3.7"/>
<circle class="sy" stroke="#7fd1d6" cx="618.3" cy="356.1" r="3.7"/>
<circle class="sy" stroke="#7fd1d6" cx="655.0" cy="375.1" r="3.7"/>
<circle class="sy" stroke="#7fd1d6" cx="691.7" cy="387.4" r="3.7"/>
<circle class="sy" stroke="#7fd1d6" cx="728.3" cy="340.0" r="3.7"/>
<circle class="sy" stroke="#7fd1d6" cx="765.0" cy="367.4" r="3.7"/>
<circle class="sy" stroke="#7fd1d6" cx="801.7" cy="400.2" r="3.7"/>
<circle class="sy" stroke="#7fd1d6" cx="838.3" cy="435.3" r="3.7"/>
<circle class="sy" stroke="#7fd1d6" cx="875.0" cy="396.0" r="3.7"/>
<circle class="sy" stroke="#7fd1d6" cx="911.7" cy="389.2" r="3.7"/>
<circle class="sy" stroke="#7fd1d6" cx="948.3" cy="383.9" r="3.7"/>
<circle class="sy" stroke="#7fd1d6" cx="985.0" cy="380.8" r="3.7"/>
<circle class="sy" stroke="#7fd1d6" cx="1021.7" cy="391.7" r="3.7"/>
<circle class="sy" stroke="#7fd1d6" cx="1058.3" cy="400.0" r="3.7"/>
<circle class="sy" stroke="#7fd1d6" cx="1095.0" cy="392.8" r="3.7"/>
<circle class="sy" stroke="#7fd1d6" cx="1131.7" cy="410.0" r="3.7"/>
<circle class="sy" stroke="#7fd1d6" cx="1168.3" cy="434.9" r="3.7"/>
<circle class="sy" stroke="#7fd1d6" cx="1205.0" cy="445.9" r="3.7"/>
<circle class="sy" stroke="#7fd1d6" cx="1241.7" cy="462.2" r="3.7"/>
<circle class="sy" stroke="#7fd1d6" cx="1278.3" cy="490.5" r="3.7"/>
<circle class="sy" stroke="#7fd1d6" cx="1315.0" cy="442.5" r="3.7"/>
<circle class="sy" stroke="#7fd1d6" cx="1351.7" cy="447.6" r="3.7"/>
<circle class="sy" stroke="#7fd1d6" cx="1388.3" cy="440.4" r="3.7"/>
<circle class="sy" stroke="#7fd1d6" cx="1425.0" cy="454.9" r="3.7"/>
<circle class="sy" stroke="#7fd1d6" cx="1461.7" cy="469.6" r="3.7"/>
<circle class="sy" stroke="#7fd1d6" cx="1498.3" cy="462.1" r="3.7"/>
<circle class="sy" stroke="#7fd1d6" cx="1535.0" cy="374.3" r="3.7"/>
<circle class="sy" stroke="#9e9e9e" cx="215.0" cy="245.5" r="3.7"/>
<circle class="sy" stroke="#9e9e9e" cx="251.7" cy="208.6" r="3.7"/>
<circle class="sy" stroke="#9e9e9e" cx="288.3" cy="266.2" r="3.7"/>
<circle class="sy" stroke="#9e9e9e" cx="325.0" cy="236.2" r="3.7"/>
<circle class="sy" stroke="#9e9e9e" cx="361.7" cy="224.0" r="3.7"/>
<circle class="sy" stroke="#9e9e9e" cx="398.3" cy="206.1" r="3.7"/>
<circle class="sy" stroke="#9e9e9e" cx="435.0" cy="210.5" r="3.7"/>
<circle class="sy" stroke="#9e9e9e" cx="471.7" cy="221.3" r="3.7"/>
<circle class="sy" stroke="#9e9e9e" cx="508.3" cy="202.1" r="3.7"/>
<circle class="sy" stroke="#9e9e9e" cx="545.0" cy="214.4" r="3.7"/>
<circle class="sy" stroke="#9e9e9e" cx="581.7" cy="242.5" r="3.7"/>
<circle class="sy" stroke="#9e9e9e" cx="618.3" cy="282.9" r="3.7"/>
<circle class="sy" stroke="#9e9e9e" cx="655.0" cy="316.0" r="3.7"/>
<circle class="sy" stroke="#9e9e9e" cx="691.7" cy="312.0" r="3.7"/>
<circle class="sy" stroke="#9e9e9e" cx="728.3" cy="260.1" r="3.7"/>
<circle class="sy" stroke="#9e9e9e" cx="765.0" cy="262.4" r="3.7"/>
<circle class="sy" stroke="#9e9e9e" cx="801.7" cy="301.0" r="3.7"/>
<circle class="sy" stroke="#9e9e9e" cx="838.3" cy="319.3" r="3.7"/>
<circle class="sy" stroke="#9e9e9e" cx="875.0" cy="308.1" r="3.7"/>
<circle class="sy" stroke="#9e9e9e" cx="911.7" cy="305.3" r="3.7"/>
<circle class="sy" stroke="#9e9e9e" cx="948.3" cy="300.6" r="3.7"/>
<circle class="sy" stroke="#9e9e9e" cx="985.0" cy="304.7" r="3.7"/>
<circle class="sy" stroke="#9e9e9e" cx="1021.7" cy="330.3" r="3.7"/>
<circle class="sy" stroke="#9e9e9e" cx="1058.3" cy="318.5" r="3.7"/>
<circle class="sy" stroke="#9e9e9e" cx="1095.0" cy="332.5" r="3.7"/>
<circle class="sy" stroke="#9e9e9e" cx="1131.7" cy="348.4" r="3.7"/>
<circle class="sy" stroke="#9e9e9e" cx="1168.3" cy="372.7" r="3.7"/>
<circle class="sy" stroke="#9e9e9e" cx="1205.0" cy="375.6" r="3.7"/>
<circle class="sy" stroke="#9e9e9e" cx="1241.7" cy="390.5" r="3.7"/>
<circle class="sy" stroke="#9e9e9e" cx="1278.3" cy="447.9" r="3.7"/>
<circle class="sy" stroke="#9e9e9e" cx="1315.0" cy="385.9" r="3.7"/>
<circle class="sy" stroke="#9e9e9e" cx="1351.7" cy="394.7" r="3.7"/>
<circle class="sy" stroke="#9e9e9e" cx="1388.3" cy="386.6" r="3.7"/>
<circle class="sy" stroke="#9e9e9e" cx="1425.0" cy="400.1" r="3.7"/>
<circle class="sy" stroke="#9e9e9e" cx="1461.7" cy="424.1" r="3.7"/>
<circle class="sy" stroke="#9e9e9e" cx="1498.3" cy="421.9" r="3.7"/>
<line x1="391" y1="737.5" x2="441" y2="737.5" stroke="#8eabdc" stroke-width="2"/>
<circle cx="416" cy="737.5" r="10.3" fill="#fff" stroke="#8eabdc" stroke-width="2"/>
<text class="lg" x="451" y="744.8">光大保德信诚鑫混合A</text>
<line x1="705" y1="737.5" x2="755" y2="737.5" stroke="#fdd896" stroke-width="2"/>
<circle cx="730" cy="737.5" r="10.3" fill="#fff" stroke="#fdd896" stroke-width="2"/>
<text class="lg" x="765" y="744.8">同类平均</text>
<line x1="883" y1="737.5" x2="933" y2="737.5" stroke="#7fd1d6" stroke-width="2"/>
<circle cx="908" cy="737.5" r="10.3" fill="#fff" stroke="#7fd1d6" stroke-width="2"/>
<text class="lg" x="943" y="744.8">沪深300</text>
<line x1="1054" y1="737.5" x2="1104" y2="737.5" stroke="#9e9e9e" stroke-width="2"/>
<circle cx="1079" cy="737.5" r="10.3" fill="#fff" stroke="#9e9e9e" stroke-width="2"/>
<text class="lg" x="1114" y="744.8">灵活混基</text>
<text class="src" x="800" y="796.9" text-anchor="middle">制图数据来自恒生聚源数据库</text>
</svg></body></html>
